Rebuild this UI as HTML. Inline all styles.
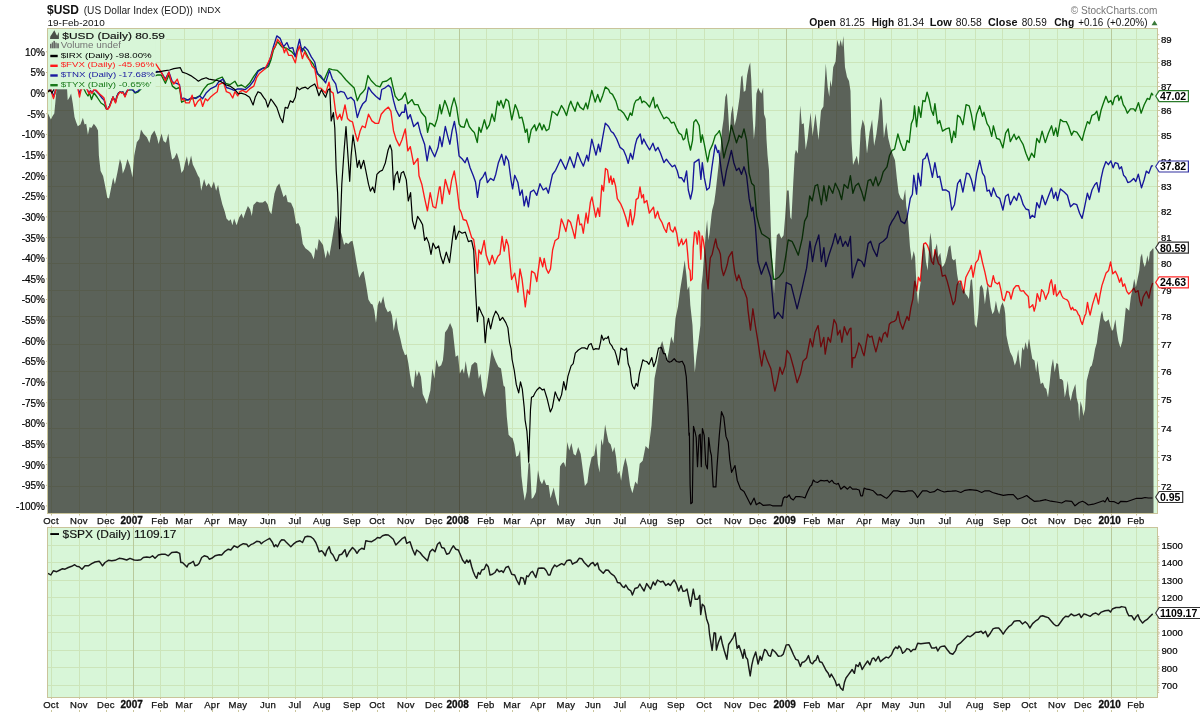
<!DOCTYPE html><html><head><meta charset="utf-8"><title>$USD chart</title><style>html,body{margin:0;padding:0;background:#fff;width:1200px;height:713px;overflow:hidden}svg{display:block;will-change:transform}text{font-family:"Liberation Sans",sans-serif}body{-webkit-font-smoothing:antialiased}</style></head><body>
<svg width="1200" height="713" viewBox="0 0 1200 713">
<rect x="0" y="0" width="1200" height="713" fill="#fff"/>
<rect x="47.5" y="28.5" width="1110.0" height="484.5" fill="#d8f6d8"/>
<clipPath id="cm"><rect x="47.5" y="28.5" width="1110.0" height="484.5"/></clipPath>
<clipPath id="cs"><rect x="47.5" y="527.5" width="1110.0" height="169.5"/></clipPath>
<g shape-rendering="crispEdges">
<line x1="47.5" y1="486.5" x2="1157.5" y2="486.5" stroke="#cce5ba" stroke-width="1"/>
<line x1="47.5" y1="457.5" x2="1157.5" y2="457.5" stroke="#cce5ba" stroke-width="1"/>
<line x1="47.5" y1="428.5" x2="1157.5" y2="428.5" stroke="#cce5ba" stroke-width="1"/>
<line x1="47.5" y1="399.5" x2="1157.5" y2="399.5" stroke="#cce5ba" stroke-width="1"/>
<line x1="47.5" y1="371.5" x2="1157.5" y2="371.5" stroke="#cce5ba" stroke-width="1"/>
<line x1="47.5" y1="344.5" x2="1157.5" y2="344.5" stroke="#cce5ba" stroke-width="1"/>
<line x1="47.5" y1="316.5" x2="1157.5" y2="316.5" stroke="#cce5ba" stroke-width="1"/>
<line x1="47.5" y1="290.5" x2="1157.5" y2="290.5" stroke="#cce5ba" stroke-width="1"/>
<line x1="47.5" y1="263.5" x2="1157.5" y2="263.5" stroke="#cce5ba" stroke-width="1"/>
<line x1="47.5" y1="237.5" x2="1157.5" y2="237.5" stroke="#cce5ba" stroke-width="1"/>
<line x1="47.5" y1="211.5" x2="1157.5" y2="211.5" stroke="#cce5ba" stroke-width="1"/>
<line x1="47.5" y1="186.5" x2="1157.5" y2="186.5" stroke="#cce5ba" stroke-width="1"/>
<line x1="47.5" y1="161.5" x2="1157.5" y2="161.5" stroke="#cce5ba" stroke-width="1"/>
<line x1="47.5" y1="135.5" x2="1157.5" y2="135.5" stroke="#cce5ba" stroke-width="1"/>
<line x1="47.5" y1="110.5" x2="1157.5" y2="110.5" stroke="#cce5ba" stroke-width="1"/>
<line x1="47.5" y1="86.5" x2="1157.5" y2="86.5" stroke="#cce5ba" stroke-width="1"/>
<line x1="47.5" y1="62.5" x2="1157.5" y2="62.5" stroke="#cce5ba" stroke-width="1"/>
<line x1="47.5" y1="39.5" x2="1157.5" y2="39.5" stroke="#cce5ba" stroke-width="1"/>
<line x1="51.5" y1="28.5" x2="51.5" y2="513.0" stroke="#cce5ba" stroke-width="1"/>
<line x1="79.5" y1="28.5" x2="79.5" y2="513.0" stroke="#cce5ba" stroke-width="1"/>
<line x1="106.5" y1="28.5" x2="106.5" y2="513.0" stroke="#cce5ba" stroke-width="1"/>
<line x1="133.5" y1="28.5" x2="133.5" y2="513.0" stroke="#b8c99c" stroke-width="1"/>
<line x1="160.5" y1="28.5" x2="160.5" y2="513.0" stroke="#cce5ba" stroke-width="1"/>
<line x1="184.5" y1="28.5" x2="184.5" y2="513.0" stroke="#cce5ba" stroke-width="1"/>
<line x1="212.5" y1="28.5" x2="212.5" y2="513.0" stroke="#cce5ba" stroke-width="1"/>
<line x1="238.5" y1="28.5" x2="238.5" y2="513.0" stroke="#cce5ba" stroke-width="1"/>
<line x1="268.5" y1="28.5" x2="268.5" y2="513.0" stroke="#cce5ba" stroke-width="1"/>
<line x1="295.5" y1="28.5" x2="295.5" y2="513.0" stroke="#cce5ba" stroke-width="1"/>
<line x1="322.5" y1="28.5" x2="322.5" y2="513.0" stroke="#cce5ba" stroke-width="1"/>
<line x1="352.5" y1="28.5" x2="352.5" y2="513.0" stroke="#cce5ba" stroke-width="1"/>
<line x1="377.5" y1="28.5" x2="377.5" y2="513.0" stroke="#cce5ba" stroke-width="1"/>
<line x1="406.5" y1="28.5" x2="406.5" y2="513.0" stroke="#cce5ba" stroke-width="1"/>
<line x1="434.5" y1="28.5" x2="434.5" y2="513.0" stroke="#cce5ba" stroke-width="1"/>
<line x1="459.5" y1="28.5" x2="459.5" y2="513.0" stroke="#b8c99c" stroke-width="1"/>
<line x1="486.5" y1="28.5" x2="486.5" y2="513.0" stroke="#cce5ba" stroke-width="1"/>
<line x1="512.5" y1="28.5" x2="512.5" y2="513.0" stroke="#cce5ba" stroke-width="1"/>
<line x1="538.5" y1="28.5" x2="538.5" y2="513.0" stroke="#cce5ba" stroke-width="1"/>
<line x1="566.5" y1="28.5" x2="566.5" y2="513.0" stroke="#cce5ba" stroke-width="1"/>
<line x1="593.5" y1="28.5" x2="593.5" y2="513.0" stroke="#cce5ba" stroke-width="1"/>
<line x1="620.5" y1="28.5" x2="620.5" y2="513.0" stroke="#cce5ba" stroke-width="1"/>
<line x1="649.5" y1="28.5" x2="649.5" y2="513.0" stroke="#cce5ba" stroke-width="1"/>
<line x1="676.5" y1="28.5" x2="676.5" y2="513.0" stroke="#cce5ba" stroke-width="1"/>
<line x1="704.5" y1="28.5" x2="704.5" y2="513.0" stroke="#cce5ba" stroke-width="1"/>
<line x1="733.5" y1="28.5" x2="733.5" y2="513.0" stroke="#cce5ba" stroke-width="1"/>
<line x1="758.5" y1="28.5" x2="758.5" y2="513.0" stroke="#cce5ba" stroke-width="1"/>
<line x1="786.5" y1="28.5" x2="786.5" y2="513.0" stroke="#b8c99c" stroke-width="1"/>
<line x1="812.5" y1="28.5" x2="812.5" y2="513.0" stroke="#cce5ba" stroke-width="1"/>
<line x1="836.5" y1="28.5" x2="836.5" y2="513.0" stroke="#cce5ba" stroke-width="1"/>
<line x1="864.5" y1="28.5" x2="864.5" y2="513.0" stroke="#cce5ba" stroke-width="1"/>
<line x1="891.5" y1="28.5" x2="891.5" y2="513.0" stroke="#cce5ba" stroke-width="1"/>
<line x1="917.5" y1="28.5" x2="917.5" y2="513.0" stroke="#cce5ba" stroke-width="1"/>
<line x1="945.5" y1="28.5" x2="945.5" y2="513.0" stroke="#cce5ba" stroke-width="1"/>
<line x1="975.5" y1="28.5" x2="975.5" y2="513.0" stroke="#cce5ba" stroke-width="1"/>
<line x1="1002.5" y1="28.5" x2="1002.5" y2="513.0" stroke="#cce5ba" stroke-width="1"/>
<line x1="1029.5" y1="28.5" x2="1029.5" y2="513.0" stroke="#cce5ba" stroke-width="1"/>
<line x1="1057.5" y1="28.5" x2="1057.5" y2="513.0" stroke="#cce5ba" stroke-width="1"/>
<line x1="1083.5" y1="28.5" x2="1083.5" y2="513.0" stroke="#cce5ba" stroke-width="1"/>
<line x1="1111.5" y1="28.5" x2="1111.5" y2="513.0" stroke="#b8c99c" stroke-width="1"/>
<line x1="1136.5" y1="28.5" x2="1136.5" y2="513.0" stroke="#cce5ba" stroke-width="1"/>
</g>
<g clip-path="url(#cm)" fill="none" stroke-width="1.35" stroke-linejoin="round">
<polyline points="48.5,91.0 51.0,90.0 53.5,97.0 55.0,93.0 56.0,88.0 60.0,85.0 70.0,84.0 80.0,86.0 84.0,89.0 86.0,93.0 88.0,96.0 89.5,93.0 91.5,99.5 94.0,93.0 97.0,97.0 101.0,103.0 104.0,105.0 106.5,109.0 108.0,108.5 109.5,106.0 111.0,102.0 113.0,97.0 114.0,99.0 115.5,102.0 117.0,96.0 118.5,93.0 120.0,92.0 121.5,92.5 123.0,92.0 125.0,96.0 126.5,92.0 128.0,90.0 133.0,89.5 135.0,93.0 138.0,92.0 141.0,89.0 145.0,84.0 150.0,78.0 157.7,74.9 161.2,75.0 165.4,83.3 168.9,74.9 172.4,86.1 176.0,88.9 179.5,87.5 181.6,102.2 185.2,100.4 189.3,99.4 194.9,98.0 199.8,95.9 204.0,88.9 207.5,84.7 213.1,82.6 217.3,79.1 222.2,77.0 225.7,83.3 229.9,84.7 234.9,81.2 237.7,86.1 241.5,85.0 245.4,87.5 249.6,83.3 253.8,76.3 258.0,70.7 263.6,67.9 265.0,68.7 268.5,66.5 270.9,60.0 273.4,50.2 277.6,41.8 281.8,46.8 286.9,48.5 291.9,51.9 295.3,56.0 299.5,46.8 304.6,50.2 308.8,58.6 313.0,63.7 315.5,68.7 318.9,75.5 323.9,80.5 329.0,68.7 332.3,69.6 337.4,70.4 341.6,74.6 345.8,79.7 350.0,83.9 354.2,88.1 357.3,100.7 360.1,94.8 362.6,92.3 365.2,88.9 368.0,75.5 371.1,80.5 376.1,85.6 380.0,86.9 382.5,81.9 386.7,81.0 390.9,77.7 392.6,85.3 395.2,96.2 398.5,100.4 401.9,98.7 405.3,92.8 407.8,103.8 412.0,99.6 414.5,104.6 417.9,104.6 421.2,112.2 425.5,117.2 427.6,132.4 429.7,123.1 432.2,124.0 434.7,126.5 437.2,118.9 439.8,104.6 441.4,113.9 444.8,100.4 447.3,107.1 449.9,116.4 451.5,107.1 454.1,97.9 456.6,107.1 459.1,124.0 460.8,126.5 464.2,127.3 466.7,118.9 469.2,126.5 471.8,129.9 474.3,132.4 477.3,142.5 479.0,127.3 481.0,132.4 484.4,119.8 486.9,129.0 489.4,124.8 492.0,113.9 494.5,121.4 497.5,101.2 499.2,105.5 500.9,100.4 503.4,108.0 505.9,99.1 508.5,101.2 511.8,119.8 515.2,104.6 517.7,110.5 519.4,118.1 521.9,117.2 523.6,124.0 525.3,132.4 527.0,129.0 528.7,142.5 531.2,129.9 534.6,124.8 536.2,130.7 539.6,123.1 542.1,129.9 543.8,124.8 546.3,130.7 548.9,129.0 552.2,111.3 554.8,113.0 557.3,115.6 561.5,105.5 564.0,109.7 566.5,115.6 569.1,105.5 570.8,101.2 572.4,105.5 575.0,111.3 577.5,102.1 580.0,107.1 583.4,109.7 585.9,102.9 587.6,108.8 591.8,90.3 595.2,102.1 597.7,94.5 600.2,102.1 602.7,95.4 605.3,86.9 608.6,89.5 610.0,92.7 612.5,94.4 615.9,101.1 618.4,109.6 620.9,110.4 623.5,112.9 626.0,117.1 627.7,120.2 630.2,112.9 631.9,115.5 634.4,103.7 636.1,100.3 638.6,99.5 640.3,96.6 642.0,102.8 643.7,101.1 646.2,102.8 649.6,107.0 651.2,102.8 653.4,97.3 655.1,107.9 657.1,104.5 658.8,108.7 661.3,113.8 663.9,118.8 666.4,117.1 668.9,118.8 671.4,123.0 674.0,122.2 676.5,128.1 679.0,133.1 681.5,134.8 683.2,139.9 684.9,138.2 686.6,128.9 688.3,140.7 690.5,150.0 692.5,140.7 693.8,122.2 695.9,119.7 697.5,122.2 699.2,125.6 700.9,142.4 702.3,134.8 704.3,144.1 706.0,153.3 707.6,161.8 709.7,150.8 712.7,144.1 715.2,135.7 717.7,133.1 719.4,130.6 721.3,137.8 723.8,158.0 726.4,147.9 728.9,140.3 731.4,125.2 733.9,134.0 736.5,142.8 739.0,135.3 741.5,137.8 744.0,128.9 746.6,140.3 749.1,173.1 751.6,183.2 754.1,185.8 756.7,216.1 759.2,226.2 761.7,233.7 765.5,236.3 769.3,238.8 771.8,261.5 773.6,279.2 775.6,279.2 779.4,276.7 783.2,271.6 785.7,256.5 788.2,240.0 792.0,241.3 794.5,246.4 798.3,255.2 802.1,238.8 804.6,221.1 807.2,216.1 809.7,195.9 812.2,200.9 815.1,185.8 817.6,184.5 821.4,204.7 823.9,185.8 826.4,200.9 828.9,185.8 832.7,193.3 835.3,183.2 839.0,190.8 841.6,199.6 844.1,184.5 847.9,188.3 850.4,175.7 852.9,193.3 855.5,185.8 858.5,183.2 861.8,192.1 864.3,200.9 868.1,180.7 870.6,179.4 873.1,185.8 875.7,176.9 878.2,185.8 880.7,180.7 883.2,171.9 887.0,166.8 889.5,155.5 892.1,150.4 894.6,149.1 897.9,134.0 900.4,142.8 903.4,150.4 905.0,150.0 907.1,140.5 909.2,142.6 911.3,123.7 913.4,118.4 914.5,105.8 916.6,126.8 918.7,106.8 920.8,117.4 922.9,100.5 925.0,101.6 927.1,92.1 929.2,99.5 931.3,110.0 933.4,115.3 934.9,103.7 937.6,123.7 939.7,120.5 942.5,131.1 946.1,128.9 949.2,127.9 951.7,142.6 953.8,131.1 955.5,137.4 957.6,115.3 960.2,117.4 962.9,124.7 966.1,104.7 969.2,105.8 971.3,114.2 974.1,130.0 976.6,114.2 979.7,105.8 982.5,116.3 983.9,112.1 987.1,123.7 989.2,126.8 991.7,136.3 993.4,125.8 996.6,138.4 999.7,139.5 1002.9,147.9 1005.6,133.2 1008.2,128.9 1010.3,141.6 1014.1,134.2 1016.2,139.5 1018.7,136.3 1020.5,140.0 1023.2,144.7 1025.9,153.2 1028.8,160.5 1031.6,153.2 1034.3,157.4 1036.8,138.4 1039.4,142.6 1042.1,131.1 1045.3,142.6 1048.4,133.2 1051.6,125.8 1053.7,135.3 1055.8,127.9 1057.5,136.3 1060.4,119.5 1063.2,121.6 1066.3,121.6 1068.4,125.8 1071.6,135.3 1073.7,131.1 1076.8,132.1 1079.6,136.3 1082.1,140.5 1084.2,132.1 1087.4,121.6 1089.5,123.7 1092.0,115.3 1094.7,114.2 1096.8,111.1 1098.9,120.5 1101.1,110.0 1103.2,103.7 1105.9,96.3 1108.4,102.6 1110.9,100.5 1112.6,104.7 1114.7,97.4 1117.9,95.3 1118.9,100.5 1121.1,96.3 1123.2,104.7 1125.3,107.9 1127.4,113.2 1130.5,108.9 1133.7,108.9 1135.4,111.1 1138.5,102.6 1141.1,113.2 1144.2,104.7 1147.4,98.4 1149.5,99.5 1151.6,93.2 1153.1,95.3" stroke="#0a6e0a"/>
<polyline points="48.5,90.0 51.0,90.0 53.5,96.0 55.0,92.0 56.0,88.0 60.0,85.0 70.0,84.0 78.0,88.0 79.5,94.0 81.0,89.0 84.0,86.0 87.0,89.0 89.0,93.0 90.5,90.5 92.0,93.0 94.0,89.5 96.0,91.0 99.0,94.0 102.0,98.0 104.0,100.0 105.0,103.0 106.5,109.0 108.0,108.5 109.5,106.0 111.0,102.0 113.0,97.0 114.0,99.0 115.5,102.0 117.0,96.0 118.5,93.0 120.0,92.0 121.5,92.5 123.0,92.0 125.0,96.0 126.5,92.0 128.0,89.5 132.0,89.5 135.0,92.5 138.0,91.0 141.0,88.0 145.0,82.0 150.0,75.0 157.0,71.4 161.2,72.1 165.4,79.1 168.9,72.1 172.4,81.9 176.6,83.3 179.5,84.7 181.6,98.7 183.7,98.2 187.9,100.1 192.1,97.3 196.0,98.5 199.8,95.9 202.6,98.7 206.1,93.1 210.3,88.9 215.9,86.1 218.7,81.9 222.9,79.1 226.4,87.5 230.6,88.9 234.2,90.3 237.7,88.9 241.5,89.0 245.4,89.6 249.6,86.1 253.8,80.5 258.0,71.4 262.2,68.6 266.4,67.2 268.5,63.7 270.9,56.0 273.4,46.8 276.8,35.9 280.2,38.4 283.5,46.8 286.9,42.6 289.4,48.5 292.8,47.7 295.3,56.9 299.5,39.3 302.0,51.9 304.6,46.8 307.9,50.2 311.3,56.9 314.7,62.0 317.2,73.8 320.6,75.5 325.6,83.0 329.5,70.4 332.3,78.8 335.7,83.9 337.7,93.1 340.8,91.4 344.1,92.3 347.5,99.0 350.9,97.3 354.2,100.7 357.3,117.5 360.1,109.1 362.6,104.1 366.0,100.7 368.5,87.2 371.9,92.3 376.1,96.5 380.0,99.6 381.7,89.5 385.1,87.8 388.4,85.3 390.9,87.8 393.5,100.4 396.0,109.7 399.4,116.4 401.9,112.2 404.4,112.2 405.3,104.6 407.8,118.9 410.3,114.7 413.7,126.5 417.9,122.3 420.4,132.4 424.6,144.2 427.1,161.0 429.7,145.9 432.2,151.8 434.7,156.8 438.1,147.5 439.8,136.6 442.0,146.7 445.3,126.5 447.8,136.6 449.9,144.2 452.1,130.7 454.4,121.4 456.6,134.1 459.1,156.0 462.5,159.3 465.0,162.7 467.2,157.6 470.1,167.7 473.4,176.0 475.5,182.0 477.5,197.4 480.0,180.5 483.2,176.3 485.3,172.1 487.4,182.6 490.5,178.4 493.7,180.5 495.8,174.2 498.4,162.7 501.7,154.3 504.3,165.2 505.9,156.0 508.5,161.0 511.0,180.0 512.6,188.9 514.7,175.3 517.9,182.6 520.0,195.3 522.1,190.0 524.2,205.8 526.3,196.3 528.4,206.8 530.5,192.1 533.7,190.0 536.8,195.3 540.0,183.7 543.2,190.0 546.3,187.9 548.4,193.2 551.6,178.4 552.5,174.5 555.6,170.3 560.7,159.3 565.7,169.4 569.9,156.8 574.1,167.7 577.5,152.6 580.9,161.0 583.4,166.1 586.8,155.1 588.4,161.0 591.8,139.1 596.0,155.1 598.5,144.2 600.2,151.8 602.7,137.4 605.3,123.1 608.6,126.5 611.2,131.5 613.4,133.1 616.7,139.0 620.1,147.4 623.5,150.0 626.0,155.9 628.2,163.4 630.5,153.3 632.7,159.2 635.3,144.9 636.9,139.0 640.3,134.0 642.0,144.1 643.7,139.0 646.2,144.1 649.6,150.0 652.9,143.2 655.5,150.8 658.0,147.4 660.5,153.3 663.9,162.6 666.4,159.2 668.9,162.6 672.3,166.8 674.8,165.1 677.3,171.0 679.0,177.7 681.5,177.7 684.1,182.0 686.6,171.0 688.3,190.0 690.5,199.0 692.5,190.0 694.2,162.6 696.7,160.9 698.9,159.2 700.9,179.4 702.3,162.6 704.3,177.7 706.8,190.0 709.3,187.8 711.9,167.6 715.2,144.9 717.7,152.5 718.8,150.4 721.3,170.6 723.8,185.8 726.4,170.6 728.9,160.5 731.4,150.4 733.9,163.0 736.5,170.6 739.0,168.1 741.5,174.4 744.0,166.8 746.6,175.7 749.1,198.4 751.6,211.0 752.9,207.2 755.4,226.2 757.9,261.5 761.3,274.2 766.0,262.2 770.8,277.7 774.4,318.3 778.0,312.3 782.7,318.3 786.3,282.5 791.1,284.9 797.1,308.8 801.8,289.7 806.6,268.2 810.0,241.3 812.5,261.5 815.1,246.4 818.8,235.0 821.4,261.5 823.9,247.6 825.7,266.6 828.9,255.2 832.7,243.8 835.3,233.7 837.8,243.8 840.3,236.3 842.8,246.4 845.4,241.3 847.9,246.4 850.4,236.3 852.4,277.9 855.5,266.6 858.0,259.0 861.8,261.5 864.3,266.6 868.1,243.8 870.6,241.3 873.1,248.9 876.9,256.5 879.4,243.8 883.2,241.3 887.0,237.5 889.5,226.2 892.1,221.1 894.6,217.3 897.9,211.0 900.9,221.1 904.7,223.6 907.1,217.4 910.3,198.4 912.4,194.2 913.8,175.3 916.6,194.2 918.1,173.2 920.8,185.8 922.9,159.5 925.0,158.4 927.1,153.2 929.8,164.7 932.4,177.4 934.9,162.6 937.6,177.4 939.7,176.3 942.5,190.0 946.1,190.0 949.2,192.1 951.7,210.0 954.5,204.7 957.6,183.7 960.2,179.5 962.9,192.1 966.5,173.2 969.2,174.2 971.3,179.5 974.1,191.1 976.6,173.2 979.7,160.5 982.5,173.2 984.6,176.3 987.1,191.1 989.2,190.0 991.3,196.3 993.4,187.9 996.6,196.3 999.7,198.4 1002.9,210.0 1005.6,196.3 1008.2,194.2 1010.3,204.7 1014.1,196.3 1016.6,200.5 1018.7,193.2 1020.5,196.0 1023.2,204.7 1025.9,209.0 1028.8,210.0 1030.1,218.4 1032.2,215.3 1034.7,217.4 1036.8,202.6 1039.4,207.9 1042.1,195.3 1045.3,204.7 1048.4,196.3 1051.6,187.9 1053.7,198.4 1055.8,192.1 1057.5,200.5 1060.4,188.9 1064.2,192.1 1067.4,195.3 1070.5,206.8 1073.7,203.7 1076.8,204.7 1079.6,213.2 1082.1,218.4 1084.2,208.9 1087.4,193.2 1089.5,199.5 1092.0,190.0 1094.7,184.7 1096.8,182.6 1098.9,192.1 1101.1,178.4 1103.2,168.9 1105.9,161.6 1108.4,164.7 1110.9,160.9 1113.1,167.9 1115.2,162.6 1117.9,163.7 1119.4,168.9 1121.5,166.8 1123.6,175.3 1125.7,177.4 1127.8,182.6 1130.5,181.6 1133.7,178.4 1135.8,181.6 1138.3,174.2 1141.5,187.9 1144.2,179.5 1146.3,171.1 1148.8,173.2 1151.6,165.8 1153.1,165.8" stroke="#16169a"/>
<polyline points="48.5,91.0 51.0,90.0 53.5,98.5 55.0,93.0 56.0,89.0 60.0,85.0 70.0,84.0 78.0,89.0 79.5,97.0 81.0,90.0 84.0,86.0 87.0,89.0 89.0,94.0 90.5,91.0 92.0,93.5 94.0,89.5 96.0,90.0 99.0,93.5 102.0,96.0 104.0,98.0 105.0,102.0 106.5,109.0 108.0,109.0 109.5,107.0 111.0,103.0 113.0,97.0 114.0,99.5 115.5,103.0 117.0,97.0 118.5,94.0 120.0,92.0 121.5,93.0 123.0,92.5 125.0,97.0 126.5,93.0 128.0,90.0 130.0,86.0 140.0,80.0 150.0,70.0 155.6,63.7 158.4,67.9 161.2,72.1 165.4,80.5 168.9,72.1 171.0,80.5 173.8,84.0 177.3,79.1 179.5,86.1 181.6,100.1 183.7,98.7 185.8,102.9 189.3,102.9 192.1,95.2 194.9,106.4 197.7,101.5 200.5,98.7 202.6,106.4 205.4,98.7 207.5,100.8 210.3,97.3 214.5,93.8 217.3,91.7 218.7,84.7 221.5,83.3 223.6,82.6 226.4,91.7 229.9,93.1 232.7,98.0 234.9,91.7 237.7,95.9 239.8,91.7 242.6,90.3 246.1,92.4 249.6,88.9 253.8,86.1 256.6,77.7 259.4,73.5 263.6,70.0 265.0,68.7 268.4,62.0 270.9,56.9 273.4,48.5 275.1,46.8 277.6,39.3 280.2,42.6 282.7,46.8 284.4,52.7 286.0,48.5 288.6,55.3 291.9,55.3 295.3,62.8 297.8,50.2 299.5,46.0 302.4,58.6 304.6,51.9 307.1,56.9 309.6,60.3 312.1,66.2 314.7,68.7 316.3,77.1 318.0,88.1 320.6,88.1 323.1,90.6 325.6,93.1 329.0,82.2 330.7,91.4 333.2,93.1 335.7,112.5 337.4,119.2 339.9,114.2 341.6,120.1 345.0,104.9 347.5,118.4 350.0,120.9 352.5,121.8 355.1,132.7 357.6,141.1 360.1,131.0 362.3,126.0 365.2,127.6 368.5,114.2 371.9,120.9 375.3,123.4 378.6,123.4 381.2,114.2 385.1,109.7 388.4,107.1 390.9,111.3 393.5,130.7 396.0,139.1 399.4,145.9 401.9,140.0 405.3,129.0 407.8,150.9 410.3,146.7 413.7,164.4 417.9,158.5 419.0,175.7 421.8,184.2 424.6,198.2 427.4,210.8 430.2,192.6 433.0,206.6 435.8,208.0 439.4,187.0 440.2,186.8 442.1,203.7 445.3,179.5 449.5,194.2 451.6,180.5 454.3,171.0 456.8,186.8 459.4,208.9 461.1,212.1 463.2,219.5 466.3,220.5 468.4,226.8 471.6,237.4 473.7,239.5 475.8,254.2 477.5,273.2 478.9,250.0 481.1,254.2 484.2,240.5 486.3,255.3 489.5,264.7 492.2,255.3 494.7,263.7 497.9,256.3 500.0,254.2 502.1,236.3 504.2,251.1 506.3,239.5 508.4,245.8 511.6,279.5 514.7,273.2 517.9,292.1 520.0,268.9 522.1,279.5 525.3,306.8 527.4,290.0 529.5,294.2 531.6,271.1 534.7,273.2 536.8,281.6 540.0,257.4 542.7,266.8 544.2,258.4 546.3,268.9 548.4,273.2 550.5,268.9 552.6,250.0 555.0,240.8 558.4,238.3 561.4,218.9 563.4,224.0 565.9,231.5 568.1,219.8 570.5,222.3 572.7,229.9 574.9,238.3 576.9,222.3 578.2,214.7 579.9,224.8 581.6,224.0 583.3,233.2 586.1,213.0 587.8,223.1 590.4,202.1 592.0,197.0 593.7,206.3 595.7,217.2 597.9,208.0 599.6,216.4 601.8,185.3 603.5,191.1 605.5,168.4 607.5,170.1 609.2,182.7 610.9,176.0 612.2,184.4 613.6,178.5 615.6,186.1 617.3,198.7 620.7,203.8 623.2,209.7 625.7,217.2 628.2,226.5 630.4,209.7 632.4,224.8 634.5,215.6 636.1,199.6 638.3,197.9 640.0,186.9 641.7,197.9 643.4,194.5 644.2,202.9 646.8,200.4 649.3,213.0 653.5,207.1 655.2,218.1 657.7,211.3 659.4,218.1 661.9,222.3 664.1,228.2 666.4,232.4 668.0,223.9 669.3,222.6 670.5,229.6 673.0,232.1 674.9,227.0 676.6,232.7 678.7,246.0 680.6,242.2 681.6,239.0 682.9,244.7 684.4,242.8 686.3,239.0 687.6,252.9 688.8,268.0 690.1,270.6 690.7,280.7 692.2,278.8 693.2,247.9 694.5,232.1 696.0,233.3 697.3,244.1 698.5,230.8 699.5,232.7 700.8,259.2 702.1,235.9 703.3,240.3 704.6,249.1 705.9,263.0 707.1,280.7 708.1,288.9 709.0,273.1 710.3,258.0 712.2,254.2 714.1,245.3 715.7,239.0 717.2,247.2 719.1,250.4 720.4,254.2 721.6,268.0 723.5,275.6 725.4,270.6 727.3,264.3 728.6,257.3 730.5,254.2 732.1,251.6 733.6,264.3 734.9,273.1 736.8,280.7 738.7,275.0 740.6,280.0 742.4,288.2 744.3,290.8 746.9,298.3 748.1,311.1 750.5,330.2 752.9,308.8 755.3,325.5 757.7,339.8 760.1,356.5 761.7,366.0 764.1,350.5 767.2,360.1 770.8,368.4 773.2,382.7 774.9,391.1 777.5,380.4 779.9,367.2 782.3,374.4 785.1,366.0 787.0,350.5 789.9,354.1 793.5,367.2 797.1,382.7 800.6,373.2 803.0,361.3 806.6,357.7 810.2,338.6 812.6,346.9 815.0,332.6 818.1,325.5 820.9,346.9 823.8,337.4 825.2,354.1 828.1,337.4 830.5,342.2 834.0,319.5 836.4,324.3 837.6,335.0 840.0,330.2 841.9,342.2 844.3,326.7 847.2,335.0 849.6,329.0 851.0,328.2 852.0,367.5 852.9,357.7 854.9,357.7 856.9,351.8 858.8,343.0 860.8,345.9 862.8,352.8 864.1,355.7 865.7,345.9 867.7,334.1 869.6,337.1 872.0,336.1 874.0,344.9 875.9,351.8 877.5,345.9 879.5,337.1 881.4,342.0 883.4,334.1 885.4,332.2 887.3,337.1 889.3,324.3 891.3,322.3 894.2,321.4 896.2,319.4 898.1,311.5 900.1,322.3 902.7,329.2 905.0,322.3 907.0,316.4 908.9,320.4 910.9,307.6 912.9,298.8 914.8,281.1 916.8,290.9 918.4,277.2 920.3,281.1 922.3,259.5 923.7,243.8 925.6,242.8 927.6,245.7 929.6,251.6 931.5,261.4 933.5,264.4 934.9,249.6 936.4,255.5 938.4,263.4 940.4,265.4 942.3,276.2 945.3,275.2 947.2,281.1 949.2,288.9 951.2,296.8 953.1,304.7 955.1,300.7 957.1,285.0 959.0,281.1 961.0,281.1 963.6,292.9 965.9,277.2 967.9,273.2 970.0,269.3 971.4,265.5 973.1,277.2 975.7,262.9 978.2,259.6 979.9,250.3 982.4,262.1 984.9,272.2 987.4,284.0 989.5,286.5 991.1,286.5 993.3,275.6 995.0,282.3 997.5,284.0 999.2,282.3 1000.9,289.9 1002.6,299.1 1004.3,300.8 1006.8,291.5 1009.3,292.4 1011.0,299.1 1013.5,289.0 1016.1,285.7 1018.6,285.7 1020.3,290.7 1021.5,291.1 1023.4,290.6 1025.4,293.6 1028.3,296.5 1029.3,307.8 1031.3,306.3 1032.8,304.8 1034.2,311.2 1035.7,305.3 1037.2,293.6 1038.6,297.5 1039.9,301.4 1041.6,289.6 1043.6,292.1 1045.7,299.4 1047.0,295.5 1048.5,292.6 1049.9,283.7 1051.4,279.8 1052.4,285.7 1053.6,294.5 1055.1,284.7 1056.5,296.0 1058.3,293.6 1060.0,290.6 1061.7,295.5 1063.2,298.0 1065.1,299.0 1067.1,299.9 1068.6,301.9 1070.0,306.8 1071.2,309.7 1072.5,307.3 1074.0,310.2 1075.4,309.7 1076.9,311.2 1078.4,314.7 1079.4,315.6 1080.8,321.0 1082.3,324.5 1083.3,321.0 1084.6,316.1 1085.9,313.7 1087.5,302.4 1088.7,309.3 1090.1,315.0 1092.6,304.1 1096.0,293.1 1098.5,304.1 1100.2,294.0 1101.9,285.6 1103.6,280.5 1106.1,272.9 1108.6,270.4 1110.6,262.0 1112.8,273.8 1115.4,271.2 1117.4,275.5 1119.6,282.2 1121.2,278.0 1122.9,286.4 1124.6,283.9 1126.8,291.4 1128.8,294.0 1131.3,291.4 1133.9,288.1 1135.6,292.3 1138.1,290.6 1139.8,300.7 1141.4,305.8 1143.1,297.3 1144.8,294.0 1146.5,291.4 1149.0,298.2 1150.7,288.9 1152.7,283.0" stroke="#ff1a1a"/>
<polyline points="48.0,92.0 50.0,90.0 52.0,93.0 54.0,89.0 56.0,86.0 100.0,80.0 150.0,73.0 157.0,72.1 161.2,71.4 165.4,70.7 169.6,70.0 173.8,68.6 180.2,67.6 182.3,72.1 186.5,73.5 190.7,75.6 194.9,78.4 198.4,81.2 201.9,79.1 206.1,77.7 208.9,79.1 213.1,79.8 217.3,80.5 221.5,81.9 225.7,84.7 229.9,86.1 234.2,88.9 238.4,93.8 241.2,93.1 245.4,94.5 249.6,97.3 253.1,105.0 255.2,97.3 258.0,91.7 260.8,93.1 263.6,97.3 265.7,100.1 267.8,107.1 270.9,99.0 273.4,102.4 276.8,107.4 280.2,117.5 282.7,122.6 285.2,107.4 287.7,108.3 290.3,100.7 292.8,102.4 295.3,97.3 297.0,87.2 299.5,89.8 302.0,88.1 305.4,87.2 307.9,88.9 310.5,86.4 314.7,83.9 316.3,87.2 318.9,95.7 321.4,89.8 323.1,93.1 325.6,97.3 328.1,89.8 329.8,88.9 331.2,121.0 333.4,112.6 334.8,128.0 336.2,170.1 337.6,192.6 339.0,234.6 339.6,248.7 340.4,223.4 341.8,184.2 344.1,150.5 346.0,126.6 347.4,147.7 349.7,181.3 351.1,156.1 353.0,135.1 355.3,150.5 357.3,167.3 359.2,160.3 360.9,168.7 363.7,160.3 365.7,170.1 368.5,184.2 370.4,191.2 372.7,187.0 374.6,192.6 376.9,174.3 379.7,171.5 382.5,170.1 385.3,163.0 388.1,150.0 390.1,144.9 391.8,150.5 393.7,189.8 395.1,175.7 397.4,171.5 399.3,182.7 401.3,172.9 403.5,171.5 406.3,179.9 408.3,201.0 410.6,192.6 412.5,220.6 414.8,229.0 417.6,216.4 420.4,220.6 422.6,224.8 424.6,240.3 426.5,237.4 428.8,243.1 431.0,254.3 433.0,243.1 435.8,248.7 438.6,245.9 440.6,255.7 443.2,263.7 446.3,252.1 449.5,262.6 452.6,237.4 454.3,225.8 455.8,239.5 458.9,231.1 462.1,233.2 465.3,232.1 468.4,241.6 471.6,240.5 473.7,250.0 474.7,271.1 475.8,295.0 477.4,321.6 478.8,306.8 481.6,313.2 483.7,317.4 485.2,342.6 486.8,325.8 488.5,318.4 490.6,328.9 493.2,317.4 495.7,311.1 498.4,315.3 499.9,320.5 502.6,317.4 505.8,322.6 507.9,327.9 509.6,342.6 511.1,348.9 512.1,359.5 514.2,370.0 516.3,384.7 518.7,392.8 520.5,381.8 522.3,389.1 524.2,407.4 525.1,420.1 526.9,431.1 527.8,443.9 528.7,462.1 529.6,434.7 530.5,409.2 531.5,397.3 533.3,396.4 535.1,392.8 536.9,390.0 539.7,387.3 542.4,390.0 544.2,389.1 547.0,398.2 550.3,411.9 552.4,407.4 555.2,391.9 557.0,396.4 559.2,401.0 561.6,394.6 563.7,381.6 565.8,390.0 567.9,376.3 571.1,365.8 573.2,363.7 575.3,353.2 578.4,350.0 581.6,347.9 584.7,347.9 587.2,349.2 588.9,344.7 591.2,343.6 593.4,349.7 595.7,348.6 599.0,349.2 600.7,341.3 601.6,335.2 603.5,340.2 605.2,338.0 606.9,338.5 608.3,336.3 609.7,343.0 611.9,345.8 613.1,348.6 614.7,350.3 616.4,355.9 618.4,364.9 619.8,357.0 620.9,348.1 623.2,349.7 624.8,350.3 626.5,348.1 628.2,363.8 629.9,368.3 631.6,382.9 632.7,386.2 634.4,389.0 636.1,383.4 637.7,386.2 639.4,373.9 641.1,367.1 642.8,359.8 644.5,361.0 646.7,361.5 649.0,364.3 651.8,357.6 653.7,366.6 655.7,361.5 658.5,348.1 661.3,347.5 663.6,353.7 665.2,353.7 666.9,360.4 669.2,362.1 671.4,361.5 674.2,358.7 676.5,361.5 679.3,362.1 682.2,361.2 684.5,365.7 686.3,376.9 687.9,406.1 689.0,435.3 689.4,433.0 690.1,484.7 690.8,503.7 692.3,502.6 693.5,426.3 695.3,433.0 696.2,437.5 697.5,466.7 699.1,435.3 700.2,434.2 701.3,466.7 702.4,428.5 704.2,435.3 705.8,464.5 707.4,468.9 708.7,437.5 710.3,451.0 711.4,455.5 713.2,486.9 715.9,486.9 717.0,466.7 719.3,435.3 721.5,411.7 723.8,417.3 726.0,436.4 728.2,442.0 729.8,460.0 731.6,472.3 735.0,465.6 737.2,480.2 740.6,489.1 744.0,491.4 747.3,498.1 750.7,504.8 754.1,498.1 756.3,504.8 759.7,502.6 763.0,505.3 769.8,504.8 772.5,505.8 781.7,505.8 783.3,498.3 785.0,496.7 786.7,497.5 789.2,495.0 790.8,498.3 793.3,500.0 795.8,496.7 799.2,496.7 802.5,497.0 805.0,498.0 807.5,491.7 810.0,486.7 811.7,485.0 813.3,480.0 815.0,481.7 817.5,482.5 820.8,480.3 824.2,480.8 827.5,480.3 829.2,482.5 832.0,480.3 834.2,483.3 836.7,484.2 838.3,483.3 840.8,489.2 844.2,486.3 847.5,489.2 850.0,486.7 852.5,489.2 856.7,489.2 859.2,490.0 860.8,495.8 862.5,495.8 864.2,488.0 866.7,489.2 870.0,489.7 873.3,490.8 877.5,495.0 880.8,494.7 885.0,497.5 886.7,498.3 889.2,495.8 893.3,490.8 897.5,490.8 900.8,491.7 905.0,491.7 908.3,490.8 912.5,490.8 915.0,493.3 917.5,497.5 920.0,494.2 922.5,490.8 926.7,490.8 930.0,492.5 934.2,491.7 937.5,489.2 940.8,490.8 944.2,492.0 947.5,491.3 951.7,491.2 955.8,490.8 960.8,492.5 965.0,490.3 970.0,489.7 976.7,490.3 981.7,492.5 985.0,490.8 989.2,490.8 992.5,492.5 998.3,494.2 1003.3,495.3 1008.3,494.7 1013.3,494.7 1017.5,499.2 1022.5,497.5 1026.7,495.5 1030.0,498.3 1034.2,501.3 1040.0,500.8 1045.8,499.7 1050.8,501.2 1056.7,502.0 1061.7,503.0 1065.8,500.8 1071.7,501.3 1075.0,505.8 1079.2,502.5 1082.5,501.3 1085.0,502.5 1088.3,505.0 1093.3,504.2 1098.3,502.5 1103.3,500.8 1105.0,502.0 1107.5,497.5 1109.2,501.3 1114.2,501.7 1118.3,503.7 1120.8,501.3 1126.7,501.7 1131.7,500.0 1136.7,498.3 1141.7,498.3 1145.0,497.5 1148.3,498.0 1152.5,498.0" stroke="#000" stroke-width="1.2"/>
</g>
<polygon clip-path="url(#cm)" points="48.0,113.6 50.9,119.5 52.6,116.1 54.3,113.6 55.4,101.8 56.8,86.0 66.9,86.0 67.7,100.2 69.4,97.6 71.1,93.4 72.8,103.5 74.5,117.0 76.1,122.0 77.8,126.2 80.4,124.6 82.9,117.8 84.6,124.6 86.2,123.7 87.9,134.7 89.6,127.1 91.3,127.9 93.8,123.7 96.3,127.1 98.0,130.5 98.9,155.7 100.6,170.9 103.1,175.9 104.8,184.3 107.3,197.8 109.0,198.6 111.5,186.0 113.2,177.6 114.9,184.3 117.4,172.5 119.9,159.1 121.6,164.1 122.8,173.4 125.0,168.3 127.5,159.1 130.0,165.8 132.5,177.6 134.2,155.7 136.8,142.2 139.3,138.9 141.0,129.6 143.5,133.8 146.9,137.2 149.4,143.1 151.1,135.5 154.4,130.5 157.0,137.2 158.6,143.9 161.5,133.6 163.5,141.0 165.9,142.7 168.4,133.5 170.1,148.6 172.1,159.6 174.3,157.9 176.8,152.8 179.4,161.2 181.5,173.0 183.6,169.7 185.3,162.1 186.9,156.2 188.6,166.3 191.1,155.4 192.8,164.6 195.4,169.7 197.9,175.6 199.6,178.1 201.2,190.7 204.1,178.9 206.3,186.5 208.8,183.1 211.3,188.2 213.9,181.4 216.1,190.7 218.1,184.8 219.8,194.1 222.3,204.2 224.8,211.8 226.5,218.5 229.0,221.0 230.7,219.3 232.4,225.2 234.1,218.5 236.6,225.2 239.1,217.6 241.6,213.4 243.3,218.5 245.9,210.9 247.9,205.9 250.1,209.2 251.8,216.0 253.4,205.0 256.8,201.6 259.3,202.5 262.7,202.5 265.2,200.8 267.7,204.2 269.4,210.9 271.4,214.3 273.1,202.5 274.5,193.6 276.7,186.8 279.3,183.5 280.9,188.5 283.5,196.9 286.0,194.4 287.7,202.0 291.0,202.8 293.6,208.7 296.1,223.9 298.3,223.0 300.3,227.2 302.8,244.1 305.4,248.3 308.7,250.8 311.2,253.3 313.8,259.2 315.5,247.4 317.1,250.8 318.8,239.0 321.3,242.4 323.0,244.9 325.6,258.4 327.7,250.0 329.3,255.9 331.4,244.1 333.6,230.6 335.7,215.5 337.3,218.8 339.0,227.2 341.5,234.0 344.1,244.9 345.8,242.4 348.3,244.1 350.5,241.5 352.5,240.7 354.2,249.1 356.7,264.3 359.2,277.7 361.8,272.7 363.6,270.9 365.0,278.5 366.7,288.6 368.4,299.6 370.9,303.8 372.6,304.6 374.3,310.5 376.0,323.1 377.7,305.5 379.4,300.4 381.0,303.8 383.2,296.2 385.3,307.1 387.8,312.2 390.3,310.5 392.0,315.6 393.7,330.7 396.2,317.2 397.9,329.0 400.4,339.1 402.5,348.4 405.0,355.2 406.7,354.3 408.4,363.6 410.1,375.4 411.8,385.5 413.5,388.0 415.5,369.5 416.8,377.0 418.9,371.1 421.0,377.0 422.7,393.9 424.9,398.9 426.9,404.0 429.0,395.6 430.3,390.5 432.3,368.6 434.5,378.7 436.2,359.4 438.7,366.9 441.2,365.3 442.9,360.2 444.1,348.4 445.0,332.4 447.5,329.0 450.1,323.1 452.6,329.0 454.3,344.2 455.6,356.8 458.1,355.2 459.8,373.7 462.3,368.6 464.0,373.7 465.7,361.0 467.3,372.0 469.0,378.7 471.5,365.3 474.9,361.9 477.1,363.6 478.8,378.7 480.5,373.7 482.5,390.5 484.2,397.2 486.7,387.1 489.2,368.6 491.8,348.4 493.4,355.2 496.0,361.9 498.5,366.9 501.0,368.6 503.5,385.5 505.0,387.0 506.8,416.5 508.6,434.7 511.1,437.6 512.5,437.9 514.3,443.9 516.2,456.8 518.4,455.6 520.1,449.7 521.4,476.0 523.1,490.2 524.7,500.6 526.6,491.8 528.6,462.0 530.0,464.0 531.7,498.9 533.5,497.3 536.0,491.9 538.0,470.0 540.0,480.6 542.0,484.2 544.0,479.1 546.2,485.0 548.6,485.0 550.5,498.2 553.7,487.6 555.3,495.5 557.5,504.2 558.8,506.1 560.0,466.5 562.3,463.0 563.9,462.3 565.6,467.3 567.2,442.1 569.3,450.5 571.4,442.9 573.6,453.9 575.7,455.6 578.2,447.1 580.7,453.9 582.7,469.0 584.9,485.9 587.4,482.5 589.1,469.0 591.6,457.2 594.2,455.6 596.2,442.9 597.9,464.0 599.6,472.4 601.2,438.7 602.9,445.5 605.1,424.4 606.8,433.7 608.5,442.1 610.7,444.6 612.7,452.2 614.4,447.1 616.1,457.2 617.7,474.1 619.4,470.7 621.1,480.8 623.1,467.3 625.4,457.5 627.6,467.0 630.1,485.7 632.4,493.2 635.3,481.5 637.4,484.4 639.7,463.8 642.7,460.8 645.6,446.1 648.6,449.1 651.5,425.5 654.5,378.4 657.4,363.6 660.1,347.0 662.2,341.0 664.5,350.0 666.7,362.0 669.0,350.0 671.2,336.5 673.5,343.2 675.5,318.3 678.0,306.4 680.2,289.4 682.4,275.9 684.7,260.2 686.5,275.9 687.5,290.0 689.2,286.0 690.3,305.1 692.5,325.3 693.7,352.2 694.8,372.4 696.4,356.7 698.2,343.2 700.4,325.3 701.5,285.0 702.7,274.4 704.6,247.9 705.9,231.5 707.1,220.1 708.4,240.3 709.6,232.7 711.5,215.0 712.2,210.0 714.1,203.0 715.6,192.2 717.5,175.0 719.2,159.4 720.5,150.0 721.9,130.8 723.6,119.0 725.3,97.1 726.9,92.9 728.3,113.9 729.5,135.8 731.1,113.9 732.8,105.5 734.5,125.7 736.2,119.0 737.9,108.9 739.6,97.1 741.2,76.9 742.4,75.2 743.8,92.0 745.5,90.4 747.1,75.2 748.8,66.8 750.2,62.6 751.3,80.3 752.5,113.9 753.9,139.2 755.2,125.7 756.4,93.7 758.1,87.8 759.8,91.2 761.4,93.7 763.1,87.8 764.0,113.9 765.7,119.0 766.5,139.2 767.5,155.0 769.0,170.2 770.1,206.1 771.2,239.8 772.3,262.2 773.5,284.7 774.1,293.6 775.3,262.2 776.8,235.3 779.1,233.0 781.3,238.6 783.6,235.3 785.1,217.3 786.9,190.4 788.7,190.4 790.3,217.3 791.4,219.6 793.2,183.7 794.8,154.5 795.9,149.8 797.9,153.7 800.2,105.6 801.8,124.3 803.8,123.3 805.7,149.8 807.7,138.0 810.6,112.5 812.6,136.1 815.5,113.5 818.5,140.0 821.0,110.5 823.4,106.6 825.8,63.4 827.7,86.9 829.3,96.8 830.3,80.1 831.7,86.9 833.2,67.3 835.6,61.4 837.2,39.8 839.1,46.7 840.7,39.8 842.1,46.7 843.4,35.9 845.0,67.3 847.0,77.1 849.0,81.0 850.5,90.9 851.5,140.0 853.0,165.0 855.0,160.0 856.8,155.7 858.8,165.5 860.7,130.2 862.7,119.4 864.7,126.2 867.0,153.7 869.6,132.1 872.1,119.4 874.1,145.9 876.4,134.1 878.4,118.4 880.4,96.8 881.9,100.7 883.9,138.0 886.3,122.3 888.2,138.0 890.5,147.6 893.0,155.2 895.0,160.2 896.8,177.9 898.6,193.0 900.6,198.1 903.1,200.6 905.2,189.2 906.2,205.7 907.7,215.8 909.4,238.5 910.0,246.9 911.7,260.4 913.7,251.1 915.1,257.0 916.7,290.7 918.1,304.2 919.3,290.7 920.9,280.6 922.1,257.0 923.5,243.6 924.8,248.6 926.0,262.1 927.7,270.5 928.9,250.3 930.2,232.6 931.5,240.2 932.7,258.7 934.4,253.7 935.6,247.8 936.9,243.6 938.3,257.0 940.3,252.8 942.0,267.1 943.7,265.5 945.4,262.1 947.0,255.4 948.7,246.9 950.4,245.3 952.1,258.7 953.8,260.4 955.5,258.7 957.1,273.9 958.8,284.0 960.5,280.6 962.2,290.7 963.9,289.0 965.6,294.1 967.2,295.8 968.9,299.1 970.6,280.6 972.0,278.9 973.1,294.1 974.8,324.4 976.5,327.7 978.2,314.3 979.9,287.3 981.5,284.8 983.2,289.0 984.9,304.2 986.6,290.7 987.8,284.0 989.1,294.1 990.8,307.5 992.5,314.3 994.2,310.9 995.9,300.8 997.5,309.2 999.2,314.3 1000.9,305.9 1002.6,302.5 1004.3,307.5 1005.2,313.4 1006.4,335.3 1008.1,343.7 1010.1,352.1 1012.6,357.1 1014.8,365.6 1016.5,360.5 1018.2,349.6 1019.4,360.5 1020.5,368.9 1022.2,347.0 1023.9,350.4 1025.6,342.0 1027.3,349.6 1029.0,338.6 1030.6,348.7 1032.3,358.8 1034.5,360.5 1036.2,372.3 1037.4,360.5 1039.1,374.0 1040.7,384.1 1042.9,382.4 1044.6,387.4 1046.3,389.1 1048.0,397.5 1049.7,382.4 1051.3,367.2 1053.0,358.8 1054.7,372.3 1056.4,363.0 1058.1,363.9 1059.8,379.0 1061.4,379.0 1063.1,380.7 1064.8,397.5 1066.5,389.1 1067.8,380.7 1069.0,394.2 1070.7,400.9 1072.4,392.5 1074.1,387.4 1075.4,384.1 1076.6,397.5 1078.3,404.3 1079.1,421.1 1080.5,400.9 1082.2,407.6 1083.3,416.1 1085.0,409.3 1086.7,380.7 1088.4,374.0 1090.1,367.2 1091.8,365.6 1093.4,358.8 1095.1,348.7 1096.8,343.0 1097.9,334.0 1099.4,324.3 1101.0,314.2 1102.2,310.8 1103.6,319.2 1105.3,321.8 1106.9,320.9 1108.6,319.2 1110.3,326.0 1112.0,331.0 1113.3,329.3 1115.4,319.2 1116.7,331.0 1118.4,341.1 1120.4,347.8 1122.4,341.1 1124.1,324.3 1125.8,307.4 1127.5,309.1 1129.2,310.8 1130.8,297.3 1132.5,288.9 1134.2,278.8 1135.9,287.2 1137.6,278.8 1139.3,270.4 1140.6,256.9 1142.0,253.6 1143.1,262.0 1144.8,267.0 1146.2,262.0 1147.3,255.3 1148.7,262.0 1149.9,251.9 1151.5,250.2 1152.7,248.5 1153.5,248.5 1153.5,513.0 48.0,513.0" fill="#080005" fill-opacity="0.60"/>
<rect x="48" y="29" width="107.7" height="60.3" fill="#d8f6d8"/>
<rect x="48" y="29" width="118" height="11" fill="#d8f6d8"/>
<path d="M50,38.9 L50.4,36.2 L51.8,34.2 L53.2,32 L54.4,30.2 L55.3,32.2 L56.3,34.4 L57.2,35.8 L58,33.8 L58.9,31.9 L58.9,38.9 Z" fill="#4b5049"/>
<rect x="50.0" y="43.8" width="1.5" height="4.5" fill="#656865"/>
<rect x="51.8" y="42.4" width="1.4" height="5.9" fill="#656865"/>
<rect x="53.4" y="40.9" width="1.6" height="7.4" fill="#656865"/>
<rect x="55.3" y="42.6" width="1.4" height="5.7" fill="#656865"/>
<rect x="57.2" y="43.3" width="1.7" height="5.0" fill="#656865"/>
<rect x="50.3" y="54.8" width="7.4" height="2.4" fill="#000"/>
<rect x="50.3" y="64.6" width="7.4" height="2.4" fill="#ff1a1a"/>
<rect x="50.3" y="74.3" width="7.4" height="2.4" fill="#1a1aa0"/>
<rect x="50.3" y="84.0" width="7.4" height="2.4" fill="#1a7a1a"/>
<text x="62.3" y="38.7" font-size="8.8" fill="#111" font-weight="normal" text-anchor="start" textLength="102.7" lengthAdjust="spacingAndGlyphs" stroke="#111" stroke-width="0.15">$USD (Daily) 80.59</text>
<text x="60.7" y="48.0" font-size="8.4" fill="#747474" font-weight="normal" text-anchor="start" textLength="60.3" lengthAdjust="spacingAndGlyphs">Volume undef</text>
<text x="60.7" y="57.6" font-size="7.9" fill="#000" font-weight="normal" text-anchor="start" textLength="91.0" lengthAdjust="spacingAndGlyphs">$IRX (Daily) -98.00%</text>
<text x="60.7" y="67.3" font-size="7.9" fill="#ff1a1a" font-weight="normal" text-anchor="start" textLength="93.6" lengthAdjust="spacingAndGlyphs">$FVX (Daily) -45.96%</text>
<text x="60.7" y="77.0" font-size="7.9" fill="#1a1aa0" font-weight="normal" text-anchor="start" textLength="94.3" lengthAdjust="spacingAndGlyphs">$TNX (Daily) -17.68%</text>
<text x="60.7" y="86.7" font-size="7.9" fill="#1a7a1a" font-weight="normal" text-anchor="start" textLength="91.0" lengthAdjust="spacingAndGlyphs">$TYX (Daily) -0.65%'</text>
<rect x="47.5" y="28.5" width="1110.0" height="484.5" fill="none" stroke="#c9c49a" stroke-width="1" shape-rendering="crispEdges"/>
<rect x="47.5" y="527.5" width="1110.0" height="169.5" fill="#d8f6d8"/>
<g shape-rendering="crispEdges">
<line x1="47.5" y1="685.5" x2="1157.5" y2="685.5" stroke="#cce5ba" stroke-width="1"/>
<line x1="47.5" y1="667.5" x2="1157.5" y2="667.5" stroke="#cce5ba" stroke-width="1"/>
<line x1="47.5" y1="650.5" x2="1157.5" y2="650.5" stroke="#cce5ba" stroke-width="1"/>
<line x1="47.5" y1="632.5" x2="1157.5" y2="632.5" stroke="#cce5ba" stroke-width="1"/>
<line x1="47.5" y1="615.5" x2="1157.5" y2="615.5" stroke="#cce5ba" stroke-width="1"/>
<line x1="47.5" y1="597.5" x2="1157.5" y2="597.5" stroke="#cce5ba" stroke-width="1"/>
<line x1="47.5" y1="580.5" x2="1157.5" y2="580.5" stroke="#cce5ba" stroke-width="1"/>
<line x1="47.5" y1="562.5" x2="1157.5" y2="562.5" stroke="#cce5ba" stroke-width="1"/>
<line x1="47.5" y1="545.5" x2="1157.5" y2="545.5" stroke="#cce5ba" stroke-width="1"/>
<line x1="51.5" y1="527.5" x2="51.5" y2="697.0" stroke="#cce5ba" stroke-width="1"/>
<line x1="79.5" y1="527.5" x2="79.5" y2="697.0" stroke="#cce5ba" stroke-width="1"/>
<line x1="106.5" y1="527.5" x2="106.5" y2="697.0" stroke="#cce5ba" stroke-width="1"/>
<line x1="133.5" y1="527.5" x2="133.5" y2="697.0" stroke="#b8c99c" stroke-width="1"/>
<line x1="160.5" y1="527.5" x2="160.5" y2="697.0" stroke="#cce5ba" stroke-width="1"/>
<line x1="184.5" y1="527.5" x2="184.5" y2="697.0" stroke="#cce5ba" stroke-width="1"/>
<line x1="212.5" y1="527.5" x2="212.5" y2="697.0" stroke="#cce5ba" stroke-width="1"/>
<line x1="238.5" y1="527.5" x2="238.5" y2="697.0" stroke="#cce5ba" stroke-width="1"/>
<line x1="268.5" y1="527.5" x2="268.5" y2="697.0" stroke="#cce5ba" stroke-width="1"/>
<line x1="295.5" y1="527.5" x2="295.5" y2="697.0" stroke="#cce5ba" stroke-width="1"/>
<line x1="322.5" y1="527.5" x2="322.5" y2="697.0" stroke="#cce5ba" stroke-width="1"/>
<line x1="352.5" y1="527.5" x2="352.5" y2="697.0" stroke="#cce5ba" stroke-width="1"/>
<line x1="377.5" y1="527.5" x2="377.5" y2="697.0" stroke="#cce5ba" stroke-width="1"/>
<line x1="406.5" y1="527.5" x2="406.5" y2="697.0" stroke="#cce5ba" stroke-width="1"/>
<line x1="434.5" y1="527.5" x2="434.5" y2="697.0" stroke="#cce5ba" stroke-width="1"/>
<line x1="459.5" y1="527.5" x2="459.5" y2="697.0" stroke="#b8c99c" stroke-width="1"/>
<line x1="486.5" y1="527.5" x2="486.5" y2="697.0" stroke="#cce5ba" stroke-width="1"/>
<line x1="512.5" y1="527.5" x2="512.5" y2="697.0" stroke="#cce5ba" stroke-width="1"/>
<line x1="538.5" y1="527.5" x2="538.5" y2="697.0" stroke="#cce5ba" stroke-width="1"/>
<line x1="566.5" y1="527.5" x2="566.5" y2="697.0" stroke="#cce5ba" stroke-width="1"/>
<line x1="593.5" y1="527.5" x2="593.5" y2="697.0" stroke="#cce5ba" stroke-width="1"/>
<line x1="620.5" y1="527.5" x2="620.5" y2="697.0" stroke="#cce5ba" stroke-width="1"/>
<line x1="649.5" y1="527.5" x2="649.5" y2="697.0" stroke="#cce5ba" stroke-width="1"/>
<line x1="676.5" y1="527.5" x2="676.5" y2="697.0" stroke="#cce5ba" stroke-width="1"/>
<line x1="704.5" y1="527.5" x2="704.5" y2="697.0" stroke="#cce5ba" stroke-width="1"/>
<line x1="733.5" y1="527.5" x2="733.5" y2="697.0" stroke="#cce5ba" stroke-width="1"/>
<line x1="758.5" y1="527.5" x2="758.5" y2="697.0" stroke="#cce5ba" stroke-width="1"/>
<line x1="786.5" y1="527.5" x2="786.5" y2="697.0" stroke="#b8c99c" stroke-width="1"/>
<line x1="812.5" y1="527.5" x2="812.5" y2="697.0" stroke="#cce5ba" stroke-width="1"/>
<line x1="836.5" y1="527.5" x2="836.5" y2="697.0" stroke="#cce5ba" stroke-width="1"/>
<line x1="864.5" y1="527.5" x2="864.5" y2="697.0" stroke="#cce5ba" stroke-width="1"/>
<line x1="891.5" y1="527.5" x2="891.5" y2="697.0" stroke="#cce5ba" stroke-width="1"/>
<line x1="917.5" y1="527.5" x2="917.5" y2="697.0" stroke="#cce5ba" stroke-width="1"/>
<line x1="945.5" y1="527.5" x2="945.5" y2="697.0" stroke="#cce5ba" stroke-width="1"/>
<line x1="975.5" y1="527.5" x2="975.5" y2="697.0" stroke="#cce5ba" stroke-width="1"/>
<line x1="1002.5" y1="527.5" x2="1002.5" y2="697.0" stroke="#cce5ba" stroke-width="1"/>
<line x1="1029.5" y1="527.5" x2="1029.5" y2="697.0" stroke="#cce5ba" stroke-width="1"/>
<line x1="1057.5" y1="527.5" x2="1057.5" y2="697.0" stroke="#cce5ba" stroke-width="1"/>
<line x1="1083.5" y1="527.5" x2="1083.5" y2="697.0" stroke="#cce5ba" stroke-width="1"/>
<line x1="1111.5" y1="527.5" x2="1111.5" y2="697.0" stroke="#b8c99c" stroke-width="1"/>
<line x1="1136.5" y1="527.5" x2="1136.5" y2="697.0" stroke="#cce5ba" stroke-width="1"/>
</g>
<polyline clip-path="url(#cs)" points="48.0,573.3 50.8,575.0 53.3,570.8 56.7,571.7 60.0,570.0 62.5,568.7 65.0,569.2 68.3,567.5 71.7,566.3 74.7,564.7 76.7,566.3 79.2,566.7 82.0,569.2 85.0,565.8 88.3,565.8 91.7,563.7 95.0,562.0 99.2,561.3 100.8,563.3 102.5,565.8 105.0,562.5 108.3,560.3 111.7,560.8 115.0,560.3 119.2,558.3 122.5,558.7 126.7,560.0 130.0,558.3 134.2,560.0 137.5,560.3 140.8,559.7 143.3,557.5 146.7,557.0 150.0,557.5 152.5,555.8 155.0,558.3 158.3,555.0 161.7,554.2 165.0,554.2 168.3,555.8 171.7,552.5 176.7,552.0 179.7,553.3 180.8,562.5 182.5,562.5 185.0,565.0 187.0,567.0 188.3,564.2 190.8,563.0 193.3,561.3 195.0,565.8 197.5,565.0 199.2,563.3 201.7,557.5 204.2,555.8 207.5,556.7 209.2,559.2 211.7,558.3 215.0,555.8 219.2,554.7 221.7,555.0 225.0,551.3 228.3,549.2 230.8,550.0 234.2,545.8 237.5,547.5 240.0,545.4 243.3,543.7 246.7,544.2 248.3,546.7 250.8,544.7 253.3,543.7 256.7,541.3 259.7,541.7 261.3,543.7 263.3,542.0 266.7,540.0 269.7,538.3 272.5,542.5 274.2,546.7 275.8,544.7 277.5,546.7 280.0,541.7 281.7,539.7 284.2,540.0 285.8,541.7 288.3,544.2 290.8,546.7 293.3,544.2 296.7,541.7 300.0,540.8 302.5,542.5 305.0,537.0 307.5,536.3 310.8,536.7 313.3,538.7 315.8,542.5 317.5,546.7 319.2,551.7 321.7,550.8 323.3,552.5 325.3,555.8 326.7,550.8 329.2,546.7 330.8,552.5 333.0,555.0 335.8,560.8 337.5,560.0 339.2,555.0 341.7,554.2 345.0,549.7 346.7,556.7 349.2,551.7 352.5,547.5 355.0,550.0 357.0,553.3 359.2,550.0 361.7,548.3 364.2,549.2 365.8,540.8 368.3,541.3 371.7,541.7 375.0,539.7 377.5,537.5 380.0,538.0 382.5,535.8 385.8,534.7 388.3,535.0 390.8,537.0 393.3,539.2 395.8,545.0 398.3,542.5 400.8,540.0 402.5,538.3 405.0,537.0 406.7,543.3 410.0,541.7 412.5,549.2 415.0,555.0 416.7,550.0 420.0,552.5 422.5,555.8 425.0,558.3 427.5,560.8 430.0,551.7 432.5,549.2 435.0,551.7 437.5,544.2 439.7,542.2 441.7,547.5 444.2,548.3 446.7,554.2 449.2,553.3 451.7,548.3 453.3,545.8 455.8,549.2 458.3,550.0 460.8,555.8 462.5,560.0 465.0,563.3 466.7,560.0 468.3,562.5 470.0,560.0 471.7,566.7 473.3,571.7 475.0,575.8 476.7,578.3 478.3,572.5 480.0,574.2 481.7,570.0 484.2,569.2 486.3,564.2 488.3,566.7 490.0,575.0 492.5,574.2 495.0,572.5 497.0,569.2 499.2,571.7 501.7,570.8 503.3,572.5 505.8,567.5 508.3,566.3 510.0,570.0 511.7,574.2 514.7,575.0 516.7,580.0 519.2,584.7 520.8,577.5 523.3,578.3 525.0,584.2 526.7,575.8 528.3,576.7 530.8,572.5 532.5,571.3 535.8,577.5 538.3,568.3 541.7,568.0 544.2,568.3 546.3,570.8 548.3,575.0 550.0,575.0 552.0,569.2 554.7,565.0 556.7,566.7 559.2,565.0 561.7,563.7 564.2,565.0 566.7,560.8 569.2,560.0 570.8,560.3 572.5,564.2 574.2,563.0 576.7,562.0 579.2,558.3 581.7,558.7 584.2,562.5 586.7,565.0 588.3,566.7 590.8,563.7 593.0,562.5 595.0,565.8 597.5,563.0 599.2,569.2 601.7,571.7 603.3,573.3 605.8,570.0 608.3,570.3 610.0,572.5 611.7,574.2 614.2,575.8 615.8,578.3 617.5,582.5 620.0,583.0 622.5,586.7 624.2,587.5 625.8,585.0 628.3,589.2 630.8,590.8 632.4,595.0 634.9,588.5 637.9,587.5 639.8,584.0 641.8,587.5 644.1,591.0 646.7,583.6 648.7,586.5 650.6,589.1 653.2,582.0 655.1,585.1 657.5,580.0 660.5,582.0 663.0,581.2 665.8,585.5 668.3,583.6 670.3,585.5 672.2,582.6 674.2,580.0 676.2,583.6 678.7,591.0 681.1,585.5 683.0,591.4 685.0,591.0 687.0,589.1 688.5,596.3 690.5,606.2 691.9,597.3 693.3,589.1 695.2,599.3 697.8,599.3 699.7,595.4 700.7,614.6 702.3,604.2 704.3,606.2 706.6,618.9 708.6,624.8 709.6,634.7 712.1,650.4 714.1,632.7 715.5,633.1 716.4,650.0 718.4,642.5 720.8,636.2 722.3,643.5 724.3,650.8 726.9,659.2 728.6,644.5 731.2,640.6 733.1,637.6 735.1,632.7 737.1,648.4 739.0,645.5 741.0,651.4 743.0,658.2 744.3,649.4 745.9,657.2 747.5,659.2 748.9,668.1 750.2,675.9 751.8,665.1 753.4,658.2 755.7,651.9 758.1,664.1 760.1,656.3 761.6,660.2 764.6,649.4 766.5,650.8 768.5,655.3 770.5,656.3 772.4,649.4 775.4,652.3 778.3,656.3 781.3,655.9 783.2,654.3 786.2,644.9 788.9,644.8 791.2,649.4 793.5,654.8 795.8,659.4 798.1,660.2 800.4,666.4 802.0,662.5 804.3,661.8 806.6,659.4 808.5,655.6 810.5,662.5 812.5,663.8 814.3,661.0 815.9,660.2 817.7,655.6 819.7,661.8 822.0,662.5 824.4,667.2 825.9,670.2 828.2,673.3 829.8,677.2 831.3,674.1 833.6,678.0 835.2,681.0 836.7,685.7 839.0,684.1 840.6,688.0 842.9,690.3 844.4,682.6 846.0,678.0 848.3,674.9 850.6,671.8 852.1,669.5 854.4,673.3 856.0,664.8 858.3,666.4 859.8,662.5 862.2,669.5 864.5,665.6 867.6,661.0 869.9,664.8 872.2,658.7 873.7,657.9 875.7,661.0 878.4,656.4 880.4,661.8 883.0,659.4 886.1,657.1 888.4,657.9 891.5,654.8 893.8,649.4 895.8,647.1 897.7,648.6 898.9,645.9 900.7,647.9 902.6,653.3 904.6,651.7 906.9,648.6 909.2,649.4 910.8,651.7 913.1,649.4 915.4,649.4 917.7,643.2 920.8,643.7 924.7,643.2 929.3,642.8 931.6,647.9 934.7,647.9 936.2,647.1 937.8,651.0 940.1,647.1 941.8,646.4 944.6,646.0 947.3,649.7 950.1,653.3 952.8,654.2 955.6,650.6 957.4,645.1 960.2,643.2 962.9,640.5 965.7,637.7 967.5,635.9 970.2,636.8 973.0,634.6 975.7,632.2 978.5,632.2 981.2,631.3 983.1,633.5 985.5,631.3 987.7,636.8 990.4,633.2 993.2,628.6 995.9,628.0 998.7,628.0 1001.4,631.3 1003.2,634.1 1005.6,630.4 1008.7,626.7 1011.5,624.9 1014.2,621.2 1017.0,620.7 1019.7,620.7 1022.5,624.0 1025.2,621.8 1027.6,624.0 1029.8,628.0 1032.6,623.6 1035.3,621.2 1038.1,619.4 1040.5,616.3 1042.7,615.7 1045.4,616.7 1048.2,617.6 1050.9,620.7 1053.7,624.0 1055.9,625.8 1058.2,625.5 1060.6,622.2 1063.2,618.5 1065.6,616.3 1068.3,616.7 1071.1,613.9 1073.8,615.7 1076.6,615.2 1079.3,613.9 1081.2,617.6 1083.9,613.9 1086.7,614.8 1090.3,616.3 1093.1,613.9 1095.8,613.0 1098.6,614.8 1101.3,612.1 1105.0,610.8 1108.7,610.2 1110.5,612.1 1112.3,609.0 1116.0,607.5 1119.7,607.5 1121.5,606.6 1124.2,607.1 1125.5,607.5 1127.0,612.1 1128.8,615.7 1131.6,615.7 1134.3,620.0 1136.2,616.7 1138.0,614.8 1139.8,619.4 1142.6,623.1 1144.4,621.2 1147.2,619.4 1149.0,617.6 1150.8,615.7 1152.7,613.9" fill="none" stroke="#1a1a1a" stroke-width="1.45" stroke-linejoin="round"/>
<rect x="50.3" y="533.1" width="8.7" height="1.9" fill="#000"/>
<text x="62.5" y="537.9" font-size="10.0" fill="#111" font-weight="normal" text-anchor="start" textLength="113.8" lengthAdjust="spacingAndGlyphs" stroke="#111" stroke-width="0.15">$SPX (Daily) 1109.17</text>
<rect x="47.5" y="527.5" width="1110.0" height="169.5" fill="none" stroke="#c9c49a" stroke-width="1" shape-rendering="crispEdges"/>
<text x="45.0" y="55.7" font-size="10.0" fill="#000" font-weight="normal" text-anchor="end" stroke="#000" stroke-width="0.20">10%</text>
<line x1="46" y1="51.8" x2="47.5" y2="51.8" stroke="#c9c49a" stroke-width="1"/>
<text x="45.0" y="76.4" font-size="10.0" fill="#000" font-weight="normal" text-anchor="end" stroke="#000" stroke-width="0.20">5%</text>
<line x1="46" y1="72.5" x2="47.5" y2="72.5" stroke="#c9c49a" stroke-width="1"/>
<text x="45.0" y="97.0" font-size="10.0" fill="#000" font-weight="normal" text-anchor="end" stroke="#000" stroke-width="0.20">0%</text>
<line x1="46" y1="93.1" x2="47.5" y2="93.1" stroke="#c9c49a" stroke-width="1"/>
<text x="45.0" y="117.6" font-size="10.0" fill="#000" font-weight="normal" text-anchor="end" stroke="#000" stroke-width="0.20">-5%</text>
<line x1="46" y1="113.7" x2="47.5" y2="113.7" stroke="#c9c49a" stroke-width="1"/>
<text x="45.0" y="138.3" font-size="10.0" fill="#000" font-weight="normal" text-anchor="end" stroke="#000" stroke-width="0.20">-10%</text>
<line x1="46" y1="134.4" x2="47.5" y2="134.4" stroke="#c9c49a" stroke-width="1"/>
<text x="45.0" y="158.9" font-size="10.0" fill="#000" font-weight="normal" text-anchor="end" stroke="#000" stroke-width="0.20">-15%</text>
<line x1="46" y1="155.0" x2="47.5" y2="155.0" stroke="#c9c49a" stroke-width="1"/>
<text x="45.0" y="179.6" font-size="10.0" fill="#000" font-weight="normal" text-anchor="end" stroke="#000" stroke-width="0.20">-20%</text>
<line x1="46" y1="175.7" x2="47.5" y2="175.7" stroke="#c9c49a" stroke-width="1"/>
<text x="45.0" y="200.2" font-size="10.0" fill="#000" font-weight="normal" text-anchor="end" stroke="#000" stroke-width="0.20">-25%</text>
<line x1="46" y1="196.3" x2="47.5" y2="196.3" stroke="#c9c49a" stroke-width="1"/>
<text x="45.0" y="220.8" font-size="10.0" fill="#000" font-weight="normal" text-anchor="end" stroke="#000" stroke-width="0.20">-30%</text>
<line x1="46" y1="216.9" x2="47.5" y2="216.9" stroke="#c9c49a" stroke-width="1"/>
<text x="45.0" y="241.5" font-size="10.0" fill="#000" font-weight="normal" text-anchor="end" stroke="#000" stroke-width="0.20">-35%</text>
<line x1="46" y1="237.6" x2="47.5" y2="237.6" stroke="#c9c49a" stroke-width="1"/>
<text x="45.0" y="262.1" font-size="10.0" fill="#000" font-weight="normal" text-anchor="end" stroke="#000" stroke-width="0.20">-40%</text>
<line x1="46" y1="258.2" x2="47.5" y2="258.2" stroke="#c9c49a" stroke-width="1"/>
<text x="45.0" y="282.8" font-size="10.0" fill="#000" font-weight="normal" text-anchor="end" stroke="#000" stroke-width="0.20">-45%</text>
<line x1="46" y1="278.9" x2="47.5" y2="278.9" stroke="#c9c49a" stroke-width="1"/>
<text x="45.0" y="303.4" font-size="10.0" fill="#000" font-weight="normal" text-anchor="end" stroke="#000" stroke-width="0.20">-50%</text>
<line x1="46" y1="299.5" x2="47.5" y2="299.5" stroke="#c9c49a" stroke-width="1"/>
<text x="45.0" y="324.0" font-size="10.0" fill="#000" font-weight="normal" text-anchor="end" stroke="#000" stroke-width="0.20">-55%</text>
<line x1="46" y1="320.1" x2="47.5" y2="320.1" stroke="#c9c49a" stroke-width="1"/>
<text x="45.0" y="344.7" font-size="10.0" fill="#000" font-weight="normal" text-anchor="end" stroke="#000" stroke-width="0.20">-60%</text>
<line x1="46" y1="340.8" x2="47.5" y2="340.8" stroke="#c9c49a" stroke-width="1"/>
<text x="45.0" y="365.3" font-size="10.0" fill="#000" font-weight="normal" text-anchor="end" stroke="#000" stroke-width="0.20">-65%</text>
<line x1="46" y1="361.4" x2="47.5" y2="361.4" stroke="#c9c49a" stroke-width="1"/>
<text x="45.0" y="386.0" font-size="10.0" fill="#000" font-weight="normal" text-anchor="end" stroke="#000" stroke-width="0.20">-70%</text>
<line x1="46" y1="382.1" x2="47.5" y2="382.1" stroke="#c9c49a" stroke-width="1"/>
<text x="45.0" y="406.6" font-size="10.0" fill="#000" font-weight="normal" text-anchor="end" stroke="#000" stroke-width="0.20">-75%</text>
<line x1="46" y1="402.7" x2="47.5" y2="402.7" stroke="#c9c49a" stroke-width="1"/>
<text x="45.0" y="427.2" font-size="10.0" fill="#000" font-weight="normal" text-anchor="end" stroke="#000" stroke-width="0.20">-80%</text>
<line x1="46" y1="423.3" x2="47.5" y2="423.3" stroke="#c9c49a" stroke-width="1"/>
<text x="45.0" y="447.9" font-size="10.0" fill="#000" font-weight="normal" text-anchor="end" stroke="#000" stroke-width="0.20">-85%</text>
<line x1="46" y1="444.0" x2="47.5" y2="444.0" stroke="#c9c49a" stroke-width="1"/>
<text x="45.0" y="468.5" font-size="10.0" fill="#000" font-weight="normal" text-anchor="end" stroke="#000" stroke-width="0.20">-90%</text>
<line x1="46" y1="464.6" x2="47.5" y2="464.6" stroke="#c9c49a" stroke-width="1"/>
<text x="45.0" y="489.2" font-size="10.0" fill="#000" font-weight="normal" text-anchor="end" stroke="#000" stroke-width="0.20">-95%</text>
<line x1="46" y1="485.3" x2="47.5" y2="485.3" stroke="#c9c49a" stroke-width="1"/>
<text x="45.0" y="509.8" font-size="10.0" fill="#000" font-weight="normal" text-anchor="end" stroke="#000" stroke-width="0.20">-100%</text>
<line x1="46" y1="505.9" x2="47.5" y2="505.9" stroke="#c9c49a" stroke-width="1"/>
<text x="1161.0" y="490.0" font-size="9.6" fill="#000" font-weight="normal" text-anchor="start" stroke="#000" stroke-width="0.20">72</text>
<line x1="1157.5" y1="486.5" x2="1160" y2="486.5" stroke="#c9c49a" stroke-width="1"/>
<text x="1161.0" y="461.0" font-size="9.6" fill="#000" font-weight="normal" text-anchor="start" stroke="#000" stroke-width="0.20">73</text>
<line x1="1157.5" y1="457.5" x2="1160" y2="457.5" stroke="#c9c49a" stroke-width="1"/>
<text x="1161.0" y="432.0" font-size="9.6" fill="#000" font-weight="normal" text-anchor="start" stroke="#000" stroke-width="0.20">74</text>
<line x1="1157.5" y1="428.5" x2="1160" y2="428.5" stroke="#c9c49a" stroke-width="1"/>
<text x="1161.0" y="403.0" font-size="9.6" fill="#000" font-weight="normal" text-anchor="start" stroke="#000" stroke-width="0.20">75</text>
<line x1="1157.5" y1="399.5" x2="1160" y2="399.5" stroke="#c9c49a" stroke-width="1"/>
<text x="1161.0" y="375.0" font-size="9.6" fill="#000" font-weight="normal" text-anchor="start" stroke="#000" stroke-width="0.20">76</text>
<line x1="1157.5" y1="371.5" x2="1160" y2="371.5" stroke="#c9c49a" stroke-width="1"/>
<text x="1161.0" y="348.0" font-size="9.6" fill="#000" font-weight="normal" text-anchor="start" stroke="#000" stroke-width="0.20">77</text>
<line x1="1157.5" y1="344.5" x2="1160" y2="344.5" stroke="#c9c49a" stroke-width="1"/>
<text x="1161.0" y="320.0" font-size="9.6" fill="#000" font-weight="normal" text-anchor="start" stroke="#000" stroke-width="0.20">78</text>
<line x1="1157.5" y1="316.5" x2="1160" y2="316.5" stroke="#c9c49a" stroke-width="1"/>
<text x="1161.0" y="294.0" font-size="9.6" fill="#000" font-weight="normal" text-anchor="start" stroke="#000" stroke-width="0.20">79</text>
<line x1="1157.5" y1="290.5" x2="1160" y2="290.5" stroke="#c9c49a" stroke-width="1"/>
<text x="1161.0" y="267.0" font-size="9.6" fill="#000" font-weight="normal" text-anchor="start" stroke="#000" stroke-width="0.20">80</text>
<line x1="1157.5" y1="263.5" x2="1160" y2="263.5" stroke="#c9c49a" stroke-width="1"/>
<text x="1161.0" y="241.0" font-size="9.6" fill="#000" font-weight="normal" text-anchor="start" stroke="#000" stroke-width="0.20">81</text>
<line x1="1157.5" y1="237.5" x2="1160" y2="237.5" stroke="#c9c49a" stroke-width="1"/>
<text x="1161.0" y="215.0" font-size="9.6" fill="#000" font-weight="normal" text-anchor="start" stroke="#000" stroke-width="0.20">82</text>
<line x1="1157.5" y1="211.5" x2="1160" y2="211.5" stroke="#c9c49a" stroke-width="1"/>
<text x="1161.0" y="190.0" font-size="9.6" fill="#000" font-weight="normal" text-anchor="start" stroke="#000" stroke-width="0.20">83</text>
<line x1="1157.5" y1="186.5" x2="1160" y2="186.5" stroke="#c9c49a" stroke-width="1"/>
<text x="1161.0" y="165.0" font-size="9.6" fill="#000" font-weight="normal" text-anchor="start" stroke="#000" stroke-width="0.20">84</text>
<line x1="1157.5" y1="161.5" x2="1160" y2="161.5" stroke="#c9c49a" stroke-width="1"/>
<text x="1161.0" y="139.0" font-size="9.6" fill="#000" font-weight="normal" text-anchor="start" stroke="#000" stroke-width="0.20">85</text>
<line x1="1157.5" y1="135.5" x2="1160" y2="135.5" stroke="#c9c49a" stroke-width="1"/>
<text x="1161.0" y="114.0" font-size="9.6" fill="#000" font-weight="normal" text-anchor="start" stroke="#000" stroke-width="0.20">86</text>
<line x1="1157.5" y1="110.5" x2="1160" y2="110.5" stroke="#c9c49a" stroke-width="1"/>
<text x="1161.0" y="90.0" font-size="9.6" fill="#000" font-weight="normal" text-anchor="start" stroke="#000" stroke-width="0.20">87</text>
<line x1="1157.5" y1="86.5" x2="1160" y2="86.5" stroke="#c9c49a" stroke-width="1"/>
<text x="1161.0" y="66.0" font-size="9.6" fill="#000" font-weight="normal" text-anchor="start" stroke="#000" stroke-width="0.20">88</text>
<line x1="1157.5" y1="62.5" x2="1160" y2="62.5" stroke="#c9c49a" stroke-width="1"/>
<text x="1161.0" y="43.0" font-size="9.6" fill="#000" font-weight="normal" text-anchor="start" stroke="#000" stroke-width="0.20">89</text>
<line x1="1157.5" y1="39.5" x2="1160" y2="39.5" stroke="#c9c49a" stroke-width="1"/>
<text x="1161.5" y="689.0" font-size="9.6" fill="#000" font-weight="normal" text-anchor="start" stroke="#000" stroke-width="0.20">700</text>
<line x1="1157.5" y1="685.5" x2="1160" y2="685.5" stroke="#c9c49a" stroke-width="1"/>
<text x="1161.5" y="671.5" font-size="9.6" fill="#000" font-weight="normal" text-anchor="start" stroke="#000" stroke-width="0.20">800</text>
<line x1="1157.5" y1="668.0" x2="1160" y2="668.0" stroke="#c9c49a" stroke-width="1"/>
<text x="1161.5" y="653.9" font-size="9.6" fill="#000" font-weight="normal" text-anchor="start" stroke="#000" stroke-width="0.20">900</text>
<line x1="1157.5" y1="650.4" x2="1160" y2="650.4" stroke="#c9c49a" stroke-width="1"/>
<text x="1161.5" y="636.4" font-size="9.6" fill="#000" font-weight="normal" text-anchor="start" stroke="#000" stroke-width="0.20">1000</text>
<line x1="1157.5" y1="632.9" x2="1160" y2="632.9" stroke="#c9c49a" stroke-width="1"/>
<text x="1161.5" y="601.4" font-size="9.6" fill="#000" font-weight="normal" text-anchor="start" stroke="#000" stroke-width="0.20">1200</text>
<line x1="1157.5" y1="597.9" x2="1160" y2="597.9" stroke="#c9c49a" stroke-width="1"/>
<text x="1161.5" y="583.8" font-size="9.6" fill="#000" font-weight="normal" text-anchor="start" stroke="#000" stroke-width="0.20">1300</text>
<line x1="1157.5" y1="580.3" x2="1160" y2="580.3" stroke="#c9c49a" stroke-width="1"/>
<text x="1161.5" y="566.3" font-size="9.6" fill="#000" font-weight="normal" text-anchor="start" stroke="#000" stroke-width="0.20">1400</text>
<line x1="1157.5" y1="562.8" x2="1160" y2="562.8" stroke="#c9c49a" stroke-width="1"/>
<text x="1161.5" y="548.8" font-size="9.6" fill="#000" font-weight="normal" text-anchor="start" stroke="#000" stroke-width="0.20">1500</text>
<line x1="1157.5" y1="545.3" x2="1160" y2="545.3" stroke="#c9c49a" stroke-width="1"/>
<line x1="1157.5" y1="486.5" x2="1159.2" y2="486.5" stroke="#c9c49a" stroke-width="0.9"/>
<line x1="1157.5" y1="480.5" x2="1159.2" y2="480.5" stroke="#c9c49a" stroke-width="0.9"/>
<line x1="1157.5" y1="474.6" x2="1159.2" y2="474.6" stroke="#c9c49a" stroke-width="0.9"/>
<line x1="1157.5" y1="468.8" x2="1159.2" y2="468.8" stroke="#c9c49a" stroke-width="0.9"/>
<line x1="1157.5" y1="463.0" x2="1159.2" y2="463.0" stroke="#c9c49a" stroke-width="0.9"/>
<line x1="1157.5" y1="457.5" x2="1159.2" y2="457.5" stroke="#c9c49a" stroke-width="0.9"/>
<line x1="1157.5" y1="451.4" x2="1159.2" y2="451.4" stroke="#c9c49a" stroke-width="0.9"/>
<line x1="1157.5" y1="445.6" x2="1159.2" y2="445.6" stroke="#c9c49a" stroke-width="0.9"/>
<line x1="1157.5" y1="439.8" x2="1159.2" y2="439.8" stroke="#c9c49a" stroke-width="0.9"/>
<line x1="1157.5" y1="434.1" x2="1159.2" y2="434.1" stroke="#c9c49a" stroke-width="0.9"/>
<line x1="1157.5" y1="428.5" x2="1159.2" y2="428.5" stroke="#c9c49a" stroke-width="0.9"/>
<line x1="1157.5" y1="422.6" x2="1159.2" y2="422.6" stroke="#c9c49a" stroke-width="0.9"/>
<line x1="1157.5" y1="416.9" x2="1159.2" y2="416.9" stroke="#c9c49a" stroke-width="0.9"/>
<line x1="1157.5" y1="411.2" x2="1159.2" y2="411.2" stroke="#c9c49a" stroke-width="0.9"/>
<line x1="1157.5" y1="405.6" x2="1159.2" y2="405.6" stroke="#c9c49a" stroke-width="0.9"/>
<line x1="1157.5" y1="399.5" x2="1159.2" y2="399.5" stroke="#c9c49a" stroke-width="0.9"/>
<line x1="1157.5" y1="394.3" x2="1159.2" y2="394.3" stroke="#c9c49a" stroke-width="0.9"/>
<line x1="1157.5" y1="388.7" x2="1159.2" y2="388.7" stroke="#c9c49a" stroke-width="0.9"/>
<line x1="1157.5" y1="383.1" x2="1159.2" y2="383.1" stroke="#c9c49a" stroke-width="0.9"/>
<line x1="1157.5" y1="377.5" x2="1159.2" y2="377.5" stroke="#c9c49a" stroke-width="0.9"/>
<line x1="1157.5" y1="371.5" x2="1159.2" y2="371.5" stroke="#c9c49a" stroke-width="0.9"/>
<line x1="1157.5" y1="366.4" x2="1159.2" y2="366.4" stroke="#c9c49a" stroke-width="0.9"/>
<line x1="1157.5" y1="360.8" x2="1159.2" y2="360.8" stroke="#c9c49a" stroke-width="0.9"/>
<line x1="1157.5" y1="355.3" x2="1159.2" y2="355.3" stroke="#c9c49a" stroke-width="0.9"/>
<line x1="1157.5" y1="349.8" x2="1159.2" y2="349.8" stroke="#c9c49a" stroke-width="0.9"/>
<line x1="1157.5" y1="344.5" x2="1159.2" y2="344.5" stroke="#c9c49a" stroke-width="0.9"/>
<line x1="1157.5" y1="338.8" x2="1159.2" y2="338.8" stroke="#c9c49a" stroke-width="0.9"/>
<line x1="1157.5" y1="333.3" x2="1159.2" y2="333.3" stroke="#c9c49a" stroke-width="0.9"/>
<line x1="1157.5" y1="327.9" x2="1159.2" y2="327.9" stroke="#c9c49a" stroke-width="0.9"/>
<line x1="1157.5" y1="322.5" x2="1159.2" y2="322.5" stroke="#c9c49a" stroke-width="0.9"/>
<line x1="1157.5" y1="316.5" x2="1159.2" y2="316.5" stroke="#c9c49a" stroke-width="0.9"/>
<line x1="1157.5" y1="311.6" x2="1159.2" y2="311.6" stroke="#c9c49a" stroke-width="0.9"/>
<line x1="1157.5" y1="306.2" x2="1159.2" y2="306.2" stroke="#c9c49a" stroke-width="0.9"/>
<line x1="1157.5" y1="300.9" x2="1159.2" y2="300.9" stroke="#c9c49a" stroke-width="0.9"/>
<line x1="1157.5" y1="295.5" x2="1159.2" y2="295.5" stroke="#c9c49a" stroke-width="0.9"/>
<line x1="1157.5" y1="290.5" x2="1159.2" y2="290.5" stroke="#c9c49a" stroke-width="0.9"/>
<line x1="1157.5" y1="284.8" x2="1159.2" y2="284.8" stroke="#c9c49a" stroke-width="0.9"/>
<line x1="1157.5" y1="279.5" x2="1159.2" y2="279.5" stroke="#c9c49a" stroke-width="0.9"/>
<line x1="1157.5" y1="274.2" x2="1159.2" y2="274.2" stroke="#c9c49a" stroke-width="0.9"/>
<line x1="1157.5" y1="268.9" x2="1159.2" y2="268.9" stroke="#c9c49a" stroke-width="0.9"/>
<line x1="1157.5" y1="263.5" x2="1159.2" y2="263.5" stroke="#c9c49a" stroke-width="0.9"/>
<line x1="1157.5" y1="258.3" x2="1159.2" y2="258.3" stroke="#c9c49a" stroke-width="0.9"/>
<line x1="1157.5" y1="253.1" x2="1159.2" y2="253.1" stroke="#c9c49a" stroke-width="0.9"/>
<line x1="1157.5" y1="247.9" x2="1159.2" y2="247.9" stroke="#c9c49a" stroke-width="0.9"/>
<line x1="1157.5" y1="242.6" x2="1159.2" y2="242.6" stroke="#c9c49a" stroke-width="0.9"/>
<line x1="1157.5" y1="237.5" x2="1159.2" y2="237.5" stroke="#c9c49a" stroke-width="0.9"/>
<line x1="1157.5" y1="232.2" x2="1159.2" y2="232.2" stroke="#c9c49a" stroke-width="0.9"/>
<line x1="1157.5" y1="227.0" x2="1159.2" y2="227.0" stroke="#c9c49a" stroke-width="0.9"/>
<line x1="1157.5" y1="221.9" x2="1159.2" y2="221.9" stroke="#c9c49a" stroke-width="0.9"/>
<line x1="1157.5" y1="216.7" x2="1159.2" y2="216.7" stroke="#c9c49a" stroke-width="0.9"/>
<line x1="1157.5" y1="211.5" x2="1159.2" y2="211.5" stroke="#c9c49a" stroke-width="0.9"/>
<line x1="1157.5" y1="206.4" x2="1159.2" y2="206.4" stroke="#c9c49a" stroke-width="0.9"/>
<line x1="1157.5" y1="201.3" x2="1159.2" y2="201.3" stroke="#c9c49a" stroke-width="0.9"/>
<line x1="1157.5" y1="196.2" x2="1159.2" y2="196.2" stroke="#c9c49a" stroke-width="0.9"/>
<line x1="1157.5" y1="191.1" x2="1159.2" y2="191.1" stroke="#c9c49a" stroke-width="0.9"/>
<line x1="1157.5" y1="186.5" x2="1159.2" y2="186.5" stroke="#c9c49a" stroke-width="0.9"/>
<line x1="1157.5" y1="181.0" x2="1159.2" y2="181.0" stroke="#c9c49a" stroke-width="0.9"/>
<line x1="1157.5" y1="175.9" x2="1159.2" y2="175.9" stroke="#c9c49a" stroke-width="0.9"/>
<line x1="1157.5" y1="170.9" x2="1159.2" y2="170.9" stroke="#c9c49a" stroke-width="0.9"/>
<line x1="1157.5" y1="165.9" x2="1159.2" y2="165.9" stroke="#c9c49a" stroke-width="0.9"/>
<line x1="1157.5" y1="161.5" x2="1159.2" y2="161.5" stroke="#c9c49a" stroke-width="0.9"/>
<line x1="1157.5" y1="155.8" x2="1159.2" y2="155.8" stroke="#c9c49a" stroke-width="0.9"/>
<line x1="1157.5" y1="150.9" x2="1159.2" y2="150.9" stroke="#c9c49a" stroke-width="0.9"/>
<line x1="1157.5" y1="145.9" x2="1159.2" y2="145.9" stroke="#c9c49a" stroke-width="0.9"/>
<line x1="1157.5" y1="140.9" x2="1159.2" y2="140.9" stroke="#c9c49a" stroke-width="0.9"/>
<line x1="1157.5" y1="135.5" x2="1159.2" y2="135.5" stroke="#c9c49a" stroke-width="0.9"/>
<line x1="1157.5" y1="131.0" x2="1159.2" y2="131.0" stroke="#c9c49a" stroke-width="0.9"/>
<line x1="1157.5" y1="126.1" x2="1159.2" y2="126.1" stroke="#c9c49a" stroke-width="0.9"/>
<line x1="1157.5" y1="121.2" x2="1159.2" y2="121.2" stroke="#c9c49a" stroke-width="0.9"/>
<line x1="1157.5" y1="116.3" x2="1159.2" y2="116.3" stroke="#c9c49a" stroke-width="0.9"/>
<line x1="1157.5" y1="110.5" x2="1159.2" y2="110.5" stroke="#c9c49a" stroke-width="0.9"/>
<line x1="1157.5" y1="106.5" x2="1159.2" y2="106.5" stroke="#c9c49a" stroke-width="0.9"/>
<line x1="1157.5" y1="101.6" x2="1159.2" y2="101.6" stroke="#c9c49a" stroke-width="0.9"/>
<line x1="1157.5" y1="96.8" x2="1159.2" y2="96.8" stroke="#c9c49a" stroke-width="0.9"/>
<line x1="1157.5" y1="91.9" x2="1159.2" y2="91.9" stroke="#c9c49a" stroke-width="0.9"/>
<line x1="1157.5" y1="86.5" x2="1159.2" y2="86.5" stroke="#c9c49a" stroke-width="0.9"/>
<line x1="1157.5" y1="82.3" x2="1159.2" y2="82.3" stroke="#c9c49a" stroke-width="0.9"/>
<line x1="1157.5" y1="77.5" x2="1159.2" y2="77.5" stroke="#c9c49a" stroke-width="0.9"/>
<line x1="1157.5" y1="72.7" x2="1159.2" y2="72.7" stroke="#c9c49a" stroke-width="0.9"/>
<line x1="1157.5" y1="67.9" x2="1159.2" y2="67.9" stroke="#c9c49a" stroke-width="0.9"/>
<line x1="1157.5" y1="62.5" x2="1159.2" y2="62.5" stroke="#c9c49a" stroke-width="0.9"/>
<line x1="1157.5" y1="58.3" x2="1159.2" y2="58.3" stroke="#c9c49a" stroke-width="0.9"/>
<line x1="1157.5" y1="53.6" x2="1159.2" y2="53.6" stroke="#c9c49a" stroke-width="0.9"/>
<line x1="1157.5" y1="48.8" x2="1159.2" y2="48.8" stroke="#c9c49a" stroke-width="0.9"/>
<line x1="1157.5" y1="44.1" x2="1159.2" y2="44.1" stroke="#c9c49a" stroke-width="0.9"/>
<line x1="1157.5" y1="39.5" x2="1159.2" y2="39.5" stroke="#c9c49a" stroke-width="0.9"/>
<line x1="1157.5" y1="34.7" x2="1159.2" y2="34.7" stroke="#c9c49a" stroke-width="0.9"/>
<line x1="1157.5" y1="692.5" x2="1159.2" y2="692.5" stroke="#c9c49a" stroke-width="0.9"/>
<line x1="1157.5" y1="690.8" x2="1159.2" y2="690.8" stroke="#c9c49a" stroke-width="0.9"/>
<line x1="1157.5" y1="689.0" x2="1159.2" y2="689.0" stroke="#c9c49a" stroke-width="0.9"/>
<line x1="1157.5" y1="687.3" x2="1159.2" y2="687.3" stroke="#c9c49a" stroke-width="0.9"/>
<line x1="1157.5" y1="685.5" x2="1159.2" y2="685.5" stroke="#c9c49a" stroke-width="0.9"/>
<line x1="1157.5" y1="683.7" x2="1159.2" y2="683.7" stroke="#c9c49a" stroke-width="0.9"/>
<line x1="1157.5" y1="682.0" x2="1159.2" y2="682.0" stroke="#c9c49a" stroke-width="0.9"/>
<line x1="1157.5" y1="680.2" x2="1159.2" y2="680.2" stroke="#c9c49a" stroke-width="0.9"/>
<line x1="1157.5" y1="678.5" x2="1159.2" y2="678.5" stroke="#c9c49a" stroke-width="0.9"/>
<line x1="1157.5" y1="676.7" x2="1159.2" y2="676.7" stroke="#c9c49a" stroke-width="0.9"/>
<line x1="1157.5" y1="675.0" x2="1159.2" y2="675.0" stroke="#c9c49a" stroke-width="0.9"/>
<line x1="1157.5" y1="673.2" x2="1159.2" y2="673.2" stroke="#c9c49a" stroke-width="0.9"/>
<line x1="1157.5" y1="671.5" x2="1159.2" y2="671.5" stroke="#c9c49a" stroke-width="0.9"/>
<line x1="1157.5" y1="669.7" x2="1159.2" y2="669.7" stroke="#c9c49a" stroke-width="0.9"/>
<line x1="1157.5" y1="668.0" x2="1159.2" y2="668.0" stroke="#c9c49a" stroke-width="0.9"/>
<line x1="1157.5" y1="666.2" x2="1159.2" y2="666.2" stroke="#c9c49a" stroke-width="0.9"/>
<line x1="1157.5" y1="664.5" x2="1159.2" y2="664.5" stroke="#c9c49a" stroke-width="0.9"/>
<line x1="1157.5" y1="662.7" x2="1159.2" y2="662.7" stroke="#c9c49a" stroke-width="0.9"/>
<line x1="1157.5" y1="661.0" x2="1159.2" y2="661.0" stroke="#c9c49a" stroke-width="0.9"/>
<line x1="1157.5" y1="659.2" x2="1159.2" y2="659.2" stroke="#c9c49a" stroke-width="0.9"/>
<line x1="1157.5" y1="657.5" x2="1159.2" y2="657.5" stroke="#c9c49a" stroke-width="0.9"/>
<line x1="1157.5" y1="655.7" x2="1159.2" y2="655.7" stroke="#c9c49a" stroke-width="0.9"/>
<line x1="1157.5" y1="654.0" x2="1159.2" y2="654.0" stroke="#c9c49a" stroke-width="0.9"/>
<line x1="1157.5" y1="652.2" x2="1159.2" y2="652.2" stroke="#c9c49a" stroke-width="0.9"/>
<line x1="1157.5" y1="650.4" x2="1159.2" y2="650.4" stroke="#c9c49a" stroke-width="0.9"/>
<line x1="1157.5" y1="648.7" x2="1159.2" y2="648.7" stroke="#c9c49a" stroke-width="0.9"/>
<line x1="1157.5" y1="646.9" x2="1159.2" y2="646.9" stroke="#c9c49a" stroke-width="0.9"/>
<line x1="1157.5" y1="645.2" x2="1159.2" y2="645.2" stroke="#c9c49a" stroke-width="0.9"/>
<line x1="1157.5" y1="643.4" x2="1159.2" y2="643.4" stroke="#c9c49a" stroke-width="0.9"/>
<line x1="1157.5" y1="641.7" x2="1159.2" y2="641.7" stroke="#c9c49a" stroke-width="0.9"/>
<line x1="1157.5" y1="639.9" x2="1159.2" y2="639.9" stroke="#c9c49a" stroke-width="0.9"/>
<line x1="1157.5" y1="638.2" x2="1159.2" y2="638.2" stroke="#c9c49a" stroke-width="0.9"/>
<line x1="1157.5" y1="636.4" x2="1159.2" y2="636.4" stroke="#c9c49a" stroke-width="0.9"/>
<line x1="1157.5" y1="634.7" x2="1159.2" y2="634.7" stroke="#c9c49a" stroke-width="0.9"/>
<line x1="1157.5" y1="632.9" x2="1159.2" y2="632.9" stroke="#c9c49a" stroke-width="0.9"/>
<line x1="1157.5" y1="631.2" x2="1159.2" y2="631.2" stroke="#c9c49a" stroke-width="0.9"/>
<line x1="1157.5" y1="629.4" x2="1159.2" y2="629.4" stroke="#c9c49a" stroke-width="0.9"/>
<line x1="1157.5" y1="627.7" x2="1159.2" y2="627.7" stroke="#c9c49a" stroke-width="0.9"/>
<line x1="1157.5" y1="625.9" x2="1159.2" y2="625.9" stroke="#c9c49a" stroke-width="0.9"/>
<line x1="1157.5" y1="624.2" x2="1159.2" y2="624.2" stroke="#c9c49a" stroke-width="0.9"/>
<line x1="1157.5" y1="622.4" x2="1159.2" y2="622.4" stroke="#c9c49a" stroke-width="0.9"/>
<line x1="1157.5" y1="620.7" x2="1159.2" y2="620.7" stroke="#c9c49a" stroke-width="0.9"/>
<line x1="1157.5" y1="618.9" x2="1159.2" y2="618.9" stroke="#c9c49a" stroke-width="0.9"/>
<line x1="1157.5" y1="617.2" x2="1159.2" y2="617.2" stroke="#c9c49a" stroke-width="0.9"/>
<line x1="1157.5" y1="615.4" x2="1159.2" y2="615.4" stroke="#c9c49a" stroke-width="0.9"/>
<line x1="1157.5" y1="613.6" x2="1159.2" y2="613.6" stroke="#c9c49a" stroke-width="0.9"/>
<line x1="1157.5" y1="611.9" x2="1159.2" y2="611.9" stroke="#c9c49a" stroke-width="0.9"/>
<line x1="1157.5" y1="610.1" x2="1159.2" y2="610.1" stroke="#c9c49a" stroke-width="0.9"/>
<line x1="1157.5" y1="608.4" x2="1159.2" y2="608.4" stroke="#c9c49a" stroke-width="0.9"/>
<line x1="1157.5" y1="606.6" x2="1159.2" y2="606.6" stroke="#c9c49a" stroke-width="0.9"/>
<line x1="1157.5" y1="604.9" x2="1159.2" y2="604.9" stroke="#c9c49a" stroke-width="0.9"/>
<line x1="1157.5" y1="603.1" x2="1159.2" y2="603.1" stroke="#c9c49a" stroke-width="0.9"/>
<line x1="1157.5" y1="601.4" x2="1159.2" y2="601.4" stroke="#c9c49a" stroke-width="0.9"/>
<line x1="1157.5" y1="599.6" x2="1159.2" y2="599.6" stroke="#c9c49a" stroke-width="0.9"/>
<line x1="1157.5" y1="597.9" x2="1159.2" y2="597.9" stroke="#c9c49a" stroke-width="0.9"/>
<line x1="1157.5" y1="596.1" x2="1159.2" y2="596.1" stroke="#c9c49a" stroke-width="0.9"/>
<line x1="1157.5" y1="594.4" x2="1159.2" y2="594.4" stroke="#c9c49a" stroke-width="0.9"/>
<line x1="1157.5" y1="592.6" x2="1159.2" y2="592.6" stroke="#c9c49a" stroke-width="0.9"/>
<line x1="1157.5" y1="590.9" x2="1159.2" y2="590.9" stroke="#c9c49a" stroke-width="0.9"/>
<line x1="1157.5" y1="589.1" x2="1159.2" y2="589.1" stroke="#c9c49a" stroke-width="0.9"/>
<line x1="1157.5" y1="587.4" x2="1159.2" y2="587.4" stroke="#c9c49a" stroke-width="0.9"/>
<line x1="1157.5" y1="585.6" x2="1159.2" y2="585.6" stroke="#c9c49a" stroke-width="0.9"/>
<line x1="1157.5" y1="583.9" x2="1159.2" y2="583.9" stroke="#c9c49a" stroke-width="0.9"/>
<line x1="1157.5" y1="582.1" x2="1159.2" y2="582.1" stroke="#c9c49a" stroke-width="0.9"/>
<line x1="1157.5" y1="580.3" x2="1159.2" y2="580.3" stroke="#c9c49a" stroke-width="0.9"/>
<line x1="1157.5" y1="578.6" x2="1159.2" y2="578.6" stroke="#c9c49a" stroke-width="0.9"/>
<line x1="1157.5" y1="576.8" x2="1159.2" y2="576.8" stroke="#c9c49a" stroke-width="0.9"/>
<line x1="1157.5" y1="575.1" x2="1159.2" y2="575.1" stroke="#c9c49a" stroke-width="0.9"/>
<line x1="1157.5" y1="573.3" x2="1159.2" y2="573.3" stroke="#c9c49a" stroke-width="0.9"/>
<line x1="1157.5" y1="571.6" x2="1159.2" y2="571.6" stroke="#c9c49a" stroke-width="0.9"/>
<line x1="1157.5" y1="569.8" x2="1159.2" y2="569.8" stroke="#c9c49a" stroke-width="0.9"/>
<line x1="1157.5" y1="568.1" x2="1159.2" y2="568.1" stroke="#c9c49a" stroke-width="0.9"/>
<line x1="1157.5" y1="566.3" x2="1159.2" y2="566.3" stroke="#c9c49a" stroke-width="0.9"/>
<line x1="1157.5" y1="564.6" x2="1159.2" y2="564.6" stroke="#c9c49a" stroke-width="0.9"/>
<line x1="1157.5" y1="562.8" x2="1159.2" y2="562.8" stroke="#c9c49a" stroke-width="0.9"/>
<line x1="1157.5" y1="561.1" x2="1159.2" y2="561.1" stroke="#c9c49a" stroke-width="0.9"/>
<line x1="1157.5" y1="559.3" x2="1159.2" y2="559.3" stroke="#c9c49a" stroke-width="0.9"/>
<line x1="1157.5" y1="557.6" x2="1159.2" y2="557.6" stroke="#c9c49a" stroke-width="0.9"/>
<line x1="1157.5" y1="555.8" x2="1159.2" y2="555.8" stroke="#c9c49a" stroke-width="0.9"/>
<line x1="1157.5" y1="554.1" x2="1159.2" y2="554.1" stroke="#c9c49a" stroke-width="0.9"/>
<line x1="1157.5" y1="552.3" x2="1159.2" y2="552.3" stroke="#c9c49a" stroke-width="0.9"/>
<line x1="1157.5" y1="550.6" x2="1159.2" y2="550.6" stroke="#c9c49a" stroke-width="0.9"/>
<line x1="1157.5" y1="548.8" x2="1159.2" y2="548.8" stroke="#c9c49a" stroke-width="0.9"/>
<line x1="1157.5" y1="547.1" x2="1159.2" y2="547.1" stroke="#c9c49a" stroke-width="0.9"/>
<line x1="1157.5" y1="545.3" x2="1159.2" y2="545.3" stroke="#c9c49a" stroke-width="0.9"/>
<line x1="1157.5" y1="543.5" x2="1159.2" y2="543.5" stroke="#c9c49a" stroke-width="0.9"/>
<line x1="1157.5" y1="541.8" x2="1159.2" y2="541.8" stroke="#c9c49a" stroke-width="0.9"/>
<line x1="1157.5" y1="540.0" x2="1159.2" y2="540.0" stroke="#c9c49a" stroke-width="0.9"/>
<line x1="1157.5" y1="538.3" x2="1159.2" y2="538.3" stroke="#c9c49a" stroke-width="0.9"/>
<line x1="1157.5" y1="536.5" x2="1159.2" y2="536.5" stroke="#c9c49a" stroke-width="0.9"/>
<text x="51.0" y="524.2" font-size="9.5" fill="#111" font-weight="normal" text-anchor="middle" stroke="#111" stroke-width="0.25" letter-spacing="0.3">Oct</text>
<text x="79.0" y="524.2" font-size="9.5" fill="#111" font-weight="normal" text-anchor="middle" stroke="#111" stroke-width="0.25" letter-spacing="0.3">Nov</text>
<text x="106.0" y="524.2" font-size="9.5" fill="#111" font-weight="normal" text-anchor="middle" stroke="#111" stroke-width="0.25" letter-spacing="0.3">Dec</text>
<text x="131.7" y="524.2" font-size="10.0" fill="#111" font-weight="bold" text-anchor="middle" stroke="#111" stroke-width="0.30">2007</text>
<text x="160.0" y="524.2" font-size="9.5" fill="#111" font-weight="normal" text-anchor="middle" stroke="#111" stroke-width="0.25" letter-spacing="0.3">Feb</text>
<text x="184.0" y="524.2" font-size="9.5" fill="#111" font-weight="normal" text-anchor="middle" stroke="#111" stroke-width="0.25" letter-spacing="0.3">Mar</text>
<text x="212.0" y="524.2" font-size="9.5" fill="#111" font-weight="normal" text-anchor="middle" stroke="#111" stroke-width="0.25" letter-spacing="0.3">Apr</text>
<text x="238.0" y="524.2" font-size="9.5" fill="#111" font-weight="normal" text-anchor="middle" stroke="#111" stroke-width="0.25" letter-spacing="0.3">May</text>
<text x="268.0" y="524.2" font-size="9.5" fill="#111" font-weight="normal" text-anchor="middle" stroke="#111" stroke-width="0.25" letter-spacing="0.3">Jun</text>
<text x="295.0" y="524.2" font-size="9.5" fill="#111" font-weight="normal" text-anchor="middle" stroke="#111" stroke-width="0.25" letter-spacing="0.3">Jul</text>
<text x="322.0" y="524.2" font-size="9.5" fill="#111" font-weight="normal" text-anchor="middle" stroke="#111" stroke-width="0.25" letter-spacing="0.3">Aug</text>
<text x="352.0" y="524.2" font-size="9.5" fill="#111" font-weight="normal" text-anchor="middle" stroke="#111" stroke-width="0.25" letter-spacing="0.3">Sep</text>
<text x="377.0" y="524.2" font-size="9.5" fill="#111" font-weight="normal" text-anchor="middle" stroke="#111" stroke-width="0.25" letter-spacing="0.3">Oct</text>
<text x="406.0" y="524.2" font-size="9.5" fill="#111" font-weight="normal" text-anchor="middle" stroke="#111" stroke-width="0.25" letter-spacing="0.3">Nov</text>
<text x="434.0" y="524.2" font-size="9.5" fill="#111" font-weight="normal" text-anchor="middle" stroke="#111" stroke-width="0.25" letter-spacing="0.3">Dec</text>
<text x="457.7" y="524.2" font-size="10.0" fill="#111" font-weight="bold" text-anchor="middle" stroke="#111" stroke-width="0.30">2008</text>
<text x="486.0" y="524.2" font-size="9.5" fill="#111" font-weight="normal" text-anchor="middle" stroke="#111" stroke-width="0.25" letter-spacing="0.3">Feb</text>
<text x="512.0" y="524.2" font-size="9.5" fill="#111" font-weight="normal" text-anchor="middle" stroke="#111" stroke-width="0.25" letter-spacing="0.3">Mar</text>
<text x="538.0" y="524.2" font-size="9.5" fill="#111" font-weight="normal" text-anchor="middle" stroke="#111" stroke-width="0.25" letter-spacing="0.3">Apr</text>
<text x="566.0" y="524.2" font-size="9.5" fill="#111" font-weight="normal" text-anchor="middle" stroke="#111" stroke-width="0.25" letter-spacing="0.3">May</text>
<text x="593.0" y="524.2" font-size="9.5" fill="#111" font-weight="normal" text-anchor="middle" stroke="#111" stroke-width="0.25" letter-spacing="0.3">Jun</text>
<text x="620.0" y="524.2" font-size="9.5" fill="#111" font-weight="normal" text-anchor="middle" stroke="#111" stroke-width="0.25" letter-spacing="0.3">Jul</text>
<text x="649.0" y="524.2" font-size="9.5" fill="#111" font-weight="normal" text-anchor="middle" stroke="#111" stroke-width="0.25" letter-spacing="0.3">Aug</text>
<text x="676.0" y="524.2" font-size="9.5" fill="#111" font-weight="normal" text-anchor="middle" stroke="#111" stroke-width="0.25" letter-spacing="0.3">Sep</text>
<text x="704.0" y="524.2" font-size="9.5" fill="#111" font-weight="normal" text-anchor="middle" stroke="#111" stroke-width="0.25" letter-spacing="0.3">Oct</text>
<text x="733.0" y="524.2" font-size="9.5" fill="#111" font-weight="normal" text-anchor="middle" stroke="#111" stroke-width="0.25" letter-spacing="0.3">Nov</text>
<text x="758.0" y="524.2" font-size="9.5" fill="#111" font-weight="normal" text-anchor="middle" stroke="#111" stroke-width="0.25" letter-spacing="0.3">Dec</text>
<text x="784.7" y="524.2" font-size="10.0" fill="#111" font-weight="bold" text-anchor="middle" stroke="#111" stroke-width="0.30">2009</text>
<text x="812.0" y="524.2" font-size="9.5" fill="#111" font-weight="normal" text-anchor="middle" stroke="#111" stroke-width="0.25" letter-spacing="0.3">Feb</text>
<text x="836.0" y="524.2" font-size="9.5" fill="#111" font-weight="normal" text-anchor="middle" stroke="#111" stroke-width="0.25" letter-spacing="0.3">Mar</text>
<text x="864.0" y="524.2" font-size="9.5" fill="#111" font-weight="normal" text-anchor="middle" stroke="#111" stroke-width="0.25" letter-spacing="0.3">Apr</text>
<text x="891.0" y="524.2" font-size="9.5" fill="#111" font-weight="normal" text-anchor="middle" stroke="#111" stroke-width="0.25" letter-spacing="0.3">May</text>
<text x="917.0" y="524.2" font-size="9.5" fill="#111" font-weight="normal" text-anchor="middle" stroke="#111" stroke-width="0.25" letter-spacing="0.3">Jun</text>
<text x="945.0" y="524.2" font-size="9.5" fill="#111" font-weight="normal" text-anchor="middle" stroke="#111" stroke-width="0.25" letter-spacing="0.3">Jul</text>
<text x="975.0" y="524.2" font-size="9.5" fill="#111" font-weight="normal" text-anchor="middle" stroke="#111" stroke-width="0.25" letter-spacing="0.3">Aug</text>
<text x="1002.0" y="524.2" font-size="9.5" fill="#111" font-weight="normal" text-anchor="middle" stroke="#111" stroke-width="0.25" letter-spacing="0.3">Sep</text>
<text x="1029.0" y="524.2" font-size="9.5" fill="#111" font-weight="normal" text-anchor="middle" stroke="#111" stroke-width="0.25" letter-spacing="0.3">Oct</text>
<text x="1057.0" y="524.2" font-size="9.5" fill="#111" font-weight="normal" text-anchor="middle" stroke="#111" stroke-width="0.25" letter-spacing="0.3">Nov</text>
<text x="1083.0" y="524.2" font-size="9.5" fill="#111" font-weight="normal" text-anchor="middle" stroke="#111" stroke-width="0.25" letter-spacing="0.3">Dec</text>
<text x="1109.7" y="524.2" font-size="10.0" fill="#111" font-weight="bold" text-anchor="middle" stroke="#111" stroke-width="0.30">2010</text>
<text x="1136.0" y="524.2" font-size="9.5" fill="#111" font-weight="normal" text-anchor="middle" stroke="#111" stroke-width="0.25" letter-spacing="0.3">Feb</text>
<text x="51.0" y="708.2" font-size="9.5" fill="#111" font-weight="normal" text-anchor="middle" stroke="#111" stroke-width="0.25" letter-spacing="0.3">Oct</text>
<text x="79.0" y="708.2" font-size="9.5" fill="#111" font-weight="normal" text-anchor="middle" stroke="#111" stroke-width="0.25" letter-spacing="0.3">Nov</text>
<text x="106.0" y="708.2" font-size="9.5" fill="#111" font-weight="normal" text-anchor="middle" stroke="#111" stroke-width="0.25" letter-spacing="0.3">Dec</text>
<text x="131.7" y="708.2" font-size="10.0" fill="#111" font-weight="bold" text-anchor="middle" stroke="#111" stroke-width="0.30">2007</text>
<text x="160.0" y="708.2" font-size="9.5" fill="#111" font-weight="normal" text-anchor="middle" stroke="#111" stroke-width="0.25" letter-spacing="0.3">Feb</text>
<text x="184.0" y="708.2" font-size="9.5" fill="#111" font-weight="normal" text-anchor="middle" stroke="#111" stroke-width="0.25" letter-spacing="0.3">Mar</text>
<text x="212.0" y="708.2" font-size="9.5" fill="#111" font-weight="normal" text-anchor="middle" stroke="#111" stroke-width="0.25" letter-spacing="0.3">Apr</text>
<text x="238.0" y="708.2" font-size="9.5" fill="#111" font-weight="normal" text-anchor="middle" stroke="#111" stroke-width="0.25" letter-spacing="0.3">May</text>
<text x="268.0" y="708.2" font-size="9.5" fill="#111" font-weight="normal" text-anchor="middle" stroke="#111" stroke-width="0.25" letter-spacing="0.3">Jun</text>
<text x="295.0" y="708.2" font-size="9.5" fill="#111" font-weight="normal" text-anchor="middle" stroke="#111" stroke-width="0.25" letter-spacing="0.3">Jul</text>
<text x="322.0" y="708.2" font-size="9.5" fill="#111" font-weight="normal" text-anchor="middle" stroke="#111" stroke-width="0.25" letter-spacing="0.3">Aug</text>
<text x="352.0" y="708.2" font-size="9.5" fill="#111" font-weight="normal" text-anchor="middle" stroke="#111" stroke-width="0.25" letter-spacing="0.3">Sep</text>
<text x="377.0" y="708.2" font-size="9.5" fill="#111" font-weight="normal" text-anchor="middle" stroke="#111" stroke-width="0.25" letter-spacing="0.3">Oct</text>
<text x="406.0" y="708.2" font-size="9.5" fill="#111" font-weight="normal" text-anchor="middle" stroke="#111" stroke-width="0.25" letter-spacing="0.3">Nov</text>
<text x="434.0" y="708.2" font-size="9.5" fill="#111" font-weight="normal" text-anchor="middle" stroke="#111" stroke-width="0.25" letter-spacing="0.3">Dec</text>
<text x="457.7" y="708.2" font-size="10.0" fill="#111" font-weight="bold" text-anchor="middle" stroke="#111" stroke-width="0.30">2008</text>
<text x="486.0" y="708.2" font-size="9.5" fill="#111" font-weight="normal" text-anchor="middle" stroke="#111" stroke-width="0.25" letter-spacing="0.3">Feb</text>
<text x="512.0" y="708.2" font-size="9.5" fill="#111" font-weight="normal" text-anchor="middle" stroke="#111" stroke-width="0.25" letter-spacing="0.3">Mar</text>
<text x="538.0" y="708.2" font-size="9.5" fill="#111" font-weight="normal" text-anchor="middle" stroke="#111" stroke-width="0.25" letter-spacing="0.3">Apr</text>
<text x="566.0" y="708.2" font-size="9.5" fill="#111" font-weight="normal" text-anchor="middle" stroke="#111" stroke-width="0.25" letter-spacing="0.3">May</text>
<text x="593.0" y="708.2" font-size="9.5" fill="#111" font-weight="normal" text-anchor="middle" stroke="#111" stroke-width="0.25" letter-spacing="0.3">Jun</text>
<text x="620.0" y="708.2" font-size="9.5" fill="#111" font-weight="normal" text-anchor="middle" stroke="#111" stroke-width="0.25" letter-spacing="0.3">Jul</text>
<text x="649.0" y="708.2" font-size="9.5" fill="#111" font-weight="normal" text-anchor="middle" stroke="#111" stroke-width="0.25" letter-spacing="0.3">Aug</text>
<text x="676.0" y="708.2" font-size="9.5" fill="#111" font-weight="normal" text-anchor="middle" stroke="#111" stroke-width="0.25" letter-spacing="0.3">Sep</text>
<text x="704.0" y="708.2" font-size="9.5" fill="#111" font-weight="normal" text-anchor="middle" stroke="#111" stroke-width="0.25" letter-spacing="0.3">Oct</text>
<text x="733.0" y="708.2" font-size="9.5" fill="#111" font-weight="normal" text-anchor="middle" stroke="#111" stroke-width="0.25" letter-spacing="0.3">Nov</text>
<text x="758.0" y="708.2" font-size="9.5" fill="#111" font-weight="normal" text-anchor="middle" stroke="#111" stroke-width="0.25" letter-spacing="0.3">Dec</text>
<text x="784.7" y="708.2" font-size="10.0" fill="#111" font-weight="bold" text-anchor="middle" stroke="#111" stroke-width="0.30">2009</text>
<text x="812.0" y="708.2" font-size="9.5" fill="#111" font-weight="normal" text-anchor="middle" stroke="#111" stroke-width="0.25" letter-spacing="0.3">Feb</text>
<text x="836.0" y="708.2" font-size="9.5" fill="#111" font-weight="normal" text-anchor="middle" stroke="#111" stroke-width="0.25" letter-spacing="0.3">Mar</text>
<text x="864.0" y="708.2" font-size="9.5" fill="#111" font-weight="normal" text-anchor="middle" stroke="#111" stroke-width="0.25" letter-spacing="0.3">Apr</text>
<text x="891.0" y="708.2" font-size="9.5" fill="#111" font-weight="normal" text-anchor="middle" stroke="#111" stroke-width="0.25" letter-spacing="0.3">May</text>
<text x="917.0" y="708.2" font-size="9.5" fill="#111" font-weight="normal" text-anchor="middle" stroke="#111" stroke-width="0.25" letter-spacing="0.3">Jun</text>
<text x="945.0" y="708.2" font-size="9.5" fill="#111" font-weight="normal" text-anchor="middle" stroke="#111" stroke-width="0.25" letter-spacing="0.3">Jul</text>
<text x="975.0" y="708.2" font-size="9.5" fill="#111" font-weight="normal" text-anchor="middle" stroke="#111" stroke-width="0.25" letter-spacing="0.3">Aug</text>
<text x="1002.0" y="708.2" font-size="9.5" fill="#111" font-weight="normal" text-anchor="middle" stroke="#111" stroke-width="0.25" letter-spacing="0.3">Sep</text>
<text x="1029.0" y="708.2" font-size="9.5" fill="#111" font-weight="normal" text-anchor="middle" stroke="#111" stroke-width="0.25" letter-spacing="0.3">Oct</text>
<text x="1057.0" y="708.2" font-size="9.5" fill="#111" font-weight="normal" text-anchor="middle" stroke="#111" stroke-width="0.25" letter-spacing="0.3">Nov</text>
<text x="1083.0" y="708.2" font-size="9.5" fill="#111" font-weight="normal" text-anchor="middle" stroke="#111" stroke-width="0.25" letter-spacing="0.3">Dec</text>
<text x="1109.7" y="708.2" font-size="10.0" fill="#111" font-weight="bold" text-anchor="middle" stroke="#111" stroke-width="0.30">2010</text>
<text x="1136.0" y="708.2" font-size="9.5" fill="#111" font-weight="normal" text-anchor="middle" stroke="#111" stroke-width="0.25" letter-spacing="0.3">Feb</text>
<line x1="51.5" y1="513.5" x2="51.5" y2="515.5" stroke="#c9c49a" stroke-width="1"/>
<line x1="51.5" y1="525.5" x2="51.5" y2="527.5" stroke="#c9c49a" stroke-width="1"/>
<line x1="51.5" y1="697.0" x2="51.5" y2="699.0" stroke="#c9c49a" stroke-width="1"/>
<line x1="51.5" y1="710.0" x2="51.5" y2="712.0" stroke="#c9c49a" stroke-width="1"/>
<line x1="79.5" y1="513.5" x2="79.5" y2="515.5" stroke="#c9c49a" stroke-width="1"/>
<line x1="79.5" y1="525.5" x2="79.5" y2="527.5" stroke="#c9c49a" stroke-width="1"/>
<line x1="79.5" y1="697.0" x2="79.5" y2="699.0" stroke="#c9c49a" stroke-width="1"/>
<line x1="79.5" y1="710.0" x2="79.5" y2="712.0" stroke="#c9c49a" stroke-width="1"/>
<line x1="106.5" y1="513.5" x2="106.5" y2="515.5" stroke="#c9c49a" stroke-width="1"/>
<line x1="106.5" y1="525.5" x2="106.5" y2="527.5" stroke="#c9c49a" stroke-width="1"/>
<line x1="106.5" y1="697.0" x2="106.5" y2="699.0" stroke="#c9c49a" stroke-width="1"/>
<line x1="106.5" y1="710.0" x2="106.5" y2="712.0" stroke="#c9c49a" stroke-width="1"/>
<line x1="133.5" y1="513.5" x2="133.5" y2="515.5" stroke="#c9c49a" stroke-width="1"/>
<line x1="133.5" y1="525.5" x2="133.5" y2="527.5" stroke="#c9c49a" stroke-width="1"/>
<line x1="133.5" y1="697.0" x2="133.5" y2="699.0" stroke="#c9c49a" stroke-width="1"/>
<line x1="133.5" y1="710.0" x2="133.5" y2="712.0" stroke="#c9c49a" stroke-width="1"/>
<line x1="160.5" y1="513.5" x2="160.5" y2="515.5" stroke="#c9c49a" stroke-width="1"/>
<line x1="160.5" y1="525.5" x2="160.5" y2="527.5" stroke="#c9c49a" stroke-width="1"/>
<line x1="160.5" y1="697.0" x2="160.5" y2="699.0" stroke="#c9c49a" stroke-width="1"/>
<line x1="160.5" y1="710.0" x2="160.5" y2="712.0" stroke="#c9c49a" stroke-width="1"/>
<line x1="184.5" y1="513.5" x2="184.5" y2="515.5" stroke="#c9c49a" stroke-width="1"/>
<line x1="184.5" y1="525.5" x2="184.5" y2="527.5" stroke="#c9c49a" stroke-width="1"/>
<line x1="184.5" y1="697.0" x2="184.5" y2="699.0" stroke="#c9c49a" stroke-width="1"/>
<line x1="184.5" y1="710.0" x2="184.5" y2="712.0" stroke="#c9c49a" stroke-width="1"/>
<line x1="212.5" y1="513.5" x2="212.5" y2="515.5" stroke="#c9c49a" stroke-width="1"/>
<line x1="212.5" y1="525.5" x2="212.5" y2="527.5" stroke="#c9c49a" stroke-width="1"/>
<line x1="212.5" y1="697.0" x2="212.5" y2="699.0" stroke="#c9c49a" stroke-width="1"/>
<line x1="212.5" y1="710.0" x2="212.5" y2="712.0" stroke="#c9c49a" stroke-width="1"/>
<line x1="238.5" y1="513.5" x2="238.5" y2="515.5" stroke="#c9c49a" stroke-width="1"/>
<line x1="238.5" y1="525.5" x2="238.5" y2="527.5" stroke="#c9c49a" stroke-width="1"/>
<line x1="238.5" y1="697.0" x2="238.5" y2="699.0" stroke="#c9c49a" stroke-width="1"/>
<line x1="238.5" y1="710.0" x2="238.5" y2="712.0" stroke="#c9c49a" stroke-width="1"/>
<line x1="268.5" y1="513.5" x2="268.5" y2="515.5" stroke="#c9c49a" stroke-width="1"/>
<line x1="268.5" y1="525.5" x2="268.5" y2="527.5" stroke="#c9c49a" stroke-width="1"/>
<line x1="268.5" y1="697.0" x2="268.5" y2="699.0" stroke="#c9c49a" stroke-width="1"/>
<line x1="268.5" y1="710.0" x2="268.5" y2="712.0" stroke="#c9c49a" stroke-width="1"/>
<line x1="295.5" y1="513.5" x2="295.5" y2="515.5" stroke="#c9c49a" stroke-width="1"/>
<line x1="295.5" y1="525.5" x2="295.5" y2="527.5" stroke="#c9c49a" stroke-width="1"/>
<line x1="295.5" y1="697.0" x2="295.5" y2="699.0" stroke="#c9c49a" stroke-width="1"/>
<line x1="295.5" y1="710.0" x2="295.5" y2="712.0" stroke="#c9c49a" stroke-width="1"/>
<line x1="322.5" y1="513.5" x2="322.5" y2="515.5" stroke="#c9c49a" stroke-width="1"/>
<line x1="322.5" y1="525.5" x2="322.5" y2="527.5" stroke="#c9c49a" stroke-width="1"/>
<line x1="322.5" y1="697.0" x2="322.5" y2="699.0" stroke="#c9c49a" stroke-width="1"/>
<line x1="322.5" y1="710.0" x2="322.5" y2="712.0" stroke="#c9c49a" stroke-width="1"/>
<line x1="352.5" y1="513.5" x2="352.5" y2="515.5" stroke="#c9c49a" stroke-width="1"/>
<line x1="352.5" y1="525.5" x2="352.5" y2="527.5" stroke="#c9c49a" stroke-width="1"/>
<line x1="352.5" y1="697.0" x2="352.5" y2="699.0" stroke="#c9c49a" stroke-width="1"/>
<line x1="352.5" y1="710.0" x2="352.5" y2="712.0" stroke="#c9c49a" stroke-width="1"/>
<line x1="377.5" y1="513.5" x2="377.5" y2="515.5" stroke="#c9c49a" stroke-width="1"/>
<line x1="377.5" y1="525.5" x2="377.5" y2="527.5" stroke="#c9c49a" stroke-width="1"/>
<line x1="377.5" y1="697.0" x2="377.5" y2="699.0" stroke="#c9c49a" stroke-width="1"/>
<line x1="377.5" y1="710.0" x2="377.5" y2="712.0" stroke="#c9c49a" stroke-width="1"/>
<line x1="406.5" y1="513.5" x2="406.5" y2="515.5" stroke="#c9c49a" stroke-width="1"/>
<line x1="406.5" y1="525.5" x2="406.5" y2="527.5" stroke="#c9c49a" stroke-width="1"/>
<line x1="406.5" y1="697.0" x2="406.5" y2="699.0" stroke="#c9c49a" stroke-width="1"/>
<line x1="406.5" y1="710.0" x2="406.5" y2="712.0" stroke="#c9c49a" stroke-width="1"/>
<line x1="434.5" y1="513.5" x2="434.5" y2="515.5" stroke="#c9c49a" stroke-width="1"/>
<line x1="434.5" y1="525.5" x2="434.5" y2="527.5" stroke="#c9c49a" stroke-width="1"/>
<line x1="434.5" y1="697.0" x2="434.5" y2="699.0" stroke="#c9c49a" stroke-width="1"/>
<line x1="434.5" y1="710.0" x2="434.5" y2="712.0" stroke="#c9c49a" stroke-width="1"/>
<line x1="459.5" y1="513.5" x2="459.5" y2="515.5" stroke="#c9c49a" stroke-width="1"/>
<line x1="459.5" y1="525.5" x2="459.5" y2="527.5" stroke="#c9c49a" stroke-width="1"/>
<line x1="459.5" y1="697.0" x2="459.5" y2="699.0" stroke="#c9c49a" stroke-width="1"/>
<line x1="459.5" y1="710.0" x2="459.5" y2="712.0" stroke="#c9c49a" stroke-width="1"/>
<line x1="486.5" y1="513.5" x2="486.5" y2="515.5" stroke="#c9c49a" stroke-width="1"/>
<line x1="486.5" y1="525.5" x2="486.5" y2="527.5" stroke="#c9c49a" stroke-width="1"/>
<line x1="486.5" y1="697.0" x2="486.5" y2="699.0" stroke="#c9c49a" stroke-width="1"/>
<line x1="486.5" y1="710.0" x2="486.5" y2="712.0" stroke="#c9c49a" stroke-width="1"/>
<line x1="512.5" y1="513.5" x2="512.5" y2="515.5" stroke="#c9c49a" stroke-width="1"/>
<line x1="512.5" y1="525.5" x2="512.5" y2="527.5" stroke="#c9c49a" stroke-width="1"/>
<line x1="512.5" y1="697.0" x2="512.5" y2="699.0" stroke="#c9c49a" stroke-width="1"/>
<line x1="512.5" y1="710.0" x2="512.5" y2="712.0" stroke="#c9c49a" stroke-width="1"/>
<line x1="538.5" y1="513.5" x2="538.5" y2="515.5" stroke="#c9c49a" stroke-width="1"/>
<line x1="538.5" y1="525.5" x2="538.5" y2="527.5" stroke="#c9c49a" stroke-width="1"/>
<line x1="538.5" y1="697.0" x2="538.5" y2="699.0" stroke="#c9c49a" stroke-width="1"/>
<line x1="538.5" y1="710.0" x2="538.5" y2="712.0" stroke="#c9c49a" stroke-width="1"/>
<line x1="566.5" y1="513.5" x2="566.5" y2="515.5" stroke="#c9c49a" stroke-width="1"/>
<line x1="566.5" y1="525.5" x2="566.5" y2="527.5" stroke="#c9c49a" stroke-width="1"/>
<line x1="566.5" y1="697.0" x2="566.5" y2="699.0" stroke="#c9c49a" stroke-width="1"/>
<line x1="566.5" y1="710.0" x2="566.5" y2="712.0" stroke="#c9c49a" stroke-width="1"/>
<line x1="593.5" y1="513.5" x2="593.5" y2="515.5" stroke="#c9c49a" stroke-width="1"/>
<line x1="593.5" y1="525.5" x2="593.5" y2="527.5" stroke="#c9c49a" stroke-width="1"/>
<line x1="593.5" y1="697.0" x2="593.5" y2="699.0" stroke="#c9c49a" stroke-width="1"/>
<line x1="593.5" y1="710.0" x2="593.5" y2="712.0" stroke="#c9c49a" stroke-width="1"/>
<line x1="620.5" y1="513.5" x2="620.5" y2="515.5" stroke="#c9c49a" stroke-width="1"/>
<line x1="620.5" y1="525.5" x2="620.5" y2="527.5" stroke="#c9c49a" stroke-width="1"/>
<line x1="620.5" y1="697.0" x2="620.5" y2="699.0" stroke="#c9c49a" stroke-width="1"/>
<line x1="620.5" y1="710.0" x2="620.5" y2="712.0" stroke="#c9c49a" stroke-width="1"/>
<line x1="649.5" y1="513.5" x2="649.5" y2="515.5" stroke="#c9c49a" stroke-width="1"/>
<line x1="649.5" y1="525.5" x2="649.5" y2="527.5" stroke="#c9c49a" stroke-width="1"/>
<line x1="649.5" y1="697.0" x2="649.5" y2="699.0" stroke="#c9c49a" stroke-width="1"/>
<line x1="649.5" y1="710.0" x2="649.5" y2="712.0" stroke="#c9c49a" stroke-width="1"/>
<line x1="676.5" y1="513.5" x2="676.5" y2="515.5" stroke="#c9c49a" stroke-width="1"/>
<line x1="676.5" y1="525.5" x2="676.5" y2="527.5" stroke="#c9c49a" stroke-width="1"/>
<line x1="676.5" y1="697.0" x2="676.5" y2="699.0" stroke="#c9c49a" stroke-width="1"/>
<line x1="676.5" y1="710.0" x2="676.5" y2="712.0" stroke="#c9c49a" stroke-width="1"/>
<line x1="704.5" y1="513.5" x2="704.5" y2="515.5" stroke="#c9c49a" stroke-width="1"/>
<line x1="704.5" y1="525.5" x2="704.5" y2="527.5" stroke="#c9c49a" stroke-width="1"/>
<line x1="704.5" y1="697.0" x2="704.5" y2="699.0" stroke="#c9c49a" stroke-width="1"/>
<line x1="704.5" y1="710.0" x2="704.5" y2="712.0" stroke="#c9c49a" stroke-width="1"/>
<line x1="733.5" y1="513.5" x2="733.5" y2="515.5" stroke="#c9c49a" stroke-width="1"/>
<line x1="733.5" y1="525.5" x2="733.5" y2="527.5" stroke="#c9c49a" stroke-width="1"/>
<line x1="733.5" y1="697.0" x2="733.5" y2="699.0" stroke="#c9c49a" stroke-width="1"/>
<line x1="733.5" y1="710.0" x2="733.5" y2="712.0" stroke="#c9c49a" stroke-width="1"/>
<line x1="758.5" y1="513.5" x2="758.5" y2="515.5" stroke="#c9c49a" stroke-width="1"/>
<line x1="758.5" y1="525.5" x2="758.5" y2="527.5" stroke="#c9c49a" stroke-width="1"/>
<line x1="758.5" y1="697.0" x2="758.5" y2="699.0" stroke="#c9c49a" stroke-width="1"/>
<line x1="758.5" y1="710.0" x2="758.5" y2="712.0" stroke="#c9c49a" stroke-width="1"/>
<line x1="786.5" y1="513.5" x2="786.5" y2="515.5" stroke="#c9c49a" stroke-width="1"/>
<line x1="786.5" y1="525.5" x2="786.5" y2="527.5" stroke="#c9c49a" stroke-width="1"/>
<line x1="786.5" y1="697.0" x2="786.5" y2="699.0" stroke="#c9c49a" stroke-width="1"/>
<line x1="786.5" y1="710.0" x2="786.5" y2="712.0" stroke="#c9c49a" stroke-width="1"/>
<line x1="812.5" y1="513.5" x2="812.5" y2="515.5" stroke="#c9c49a" stroke-width="1"/>
<line x1="812.5" y1="525.5" x2="812.5" y2="527.5" stroke="#c9c49a" stroke-width="1"/>
<line x1="812.5" y1="697.0" x2="812.5" y2="699.0" stroke="#c9c49a" stroke-width="1"/>
<line x1="812.5" y1="710.0" x2="812.5" y2="712.0" stroke="#c9c49a" stroke-width="1"/>
<line x1="836.5" y1="513.5" x2="836.5" y2="515.5" stroke="#c9c49a" stroke-width="1"/>
<line x1="836.5" y1="525.5" x2="836.5" y2="527.5" stroke="#c9c49a" stroke-width="1"/>
<line x1="836.5" y1="697.0" x2="836.5" y2="699.0" stroke="#c9c49a" stroke-width="1"/>
<line x1="836.5" y1="710.0" x2="836.5" y2="712.0" stroke="#c9c49a" stroke-width="1"/>
<line x1="864.5" y1="513.5" x2="864.5" y2="515.5" stroke="#c9c49a" stroke-width="1"/>
<line x1="864.5" y1="525.5" x2="864.5" y2="527.5" stroke="#c9c49a" stroke-width="1"/>
<line x1="864.5" y1="697.0" x2="864.5" y2="699.0" stroke="#c9c49a" stroke-width="1"/>
<line x1="864.5" y1="710.0" x2="864.5" y2="712.0" stroke="#c9c49a" stroke-width="1"/>
<line x1="891.5" y1="513.5" x2="891.5" y2="515.5" stroke="#c9c49a" stroke-width="1"/>
<line x1="891.5" y1="525.5" x2="891.5" y2="527.5" stroke="#c9c49a" stroke-width="1"/>
<line x1="891.5" y1="697.0" x2="891.5" y2="699.0" stroke="#c9c49a" stroke-width="1"/>
<line x1="891.5" y1="710.0" x2="891.5" y2="712.0" stroke="#c9c49a" stroke-width="1"/>
<line x1="917.5" y1="513.5" x2="917.5" y2="515.5" stroke="#c9c49a" stroke-width="1"/>
<line x1="917.5" y1="525.5" x2="917.5" y2="527.5" stroke="#c9c49a" stroke-width="1"/>
<line x1="917.5" y1="697.0" x2="917.5" y2="699.0" stroke="#c9c49a" stroke-width="1"/>
<line x1="917.5" y1="710.0" x2="917.5" y2="712.0" stroke="#c9c49a" stroke-width="1"/>
<line x1="945.5" y1="513.5" x2="945.5" y2="515.5" stroke="#c9c49a" stroke-width="1"/>
<line x1="945.5" y1="525.5" x2="945.5" y2="527.5" stroke="#c9c49a" stroke-width="1"/>
<line x1="945.5" y1="697.0" x2="945.5" y2="699.0" stroke="#c9c49a" stroke-width="1"/>
<line x1="945.5" y1="710.0" x2="945.5" y2="712.0" stroke="#c9c49a" stroke-width="1"/>
<line x1="975.5" y1="513.5" x2="975.5" y2="515.5" stroke="#c9c49a" stroke-width="1"/>
<line x1="975.5" y1="525.5" x2="975.5" y2="527.5" stroke="#c9c49a" stroke-width="1"/>
<line x1="975.5" y1="697.0" x2="975.5" y2="699.0" stroke="#c9c49a" stroke-width="1"/>
<line x1="975.5" y1="710.0" x2="975.5" y2="712.0" stroke="#c9c49a" stroke-width="1"/>
<line x1="1002.5" y1="513.5" x2="1002.5" y2="515.5" stroke="#c9c49a" stroke-width="1"/>
<line x1="1002.5" y1="525.5" x2="1002.5" y2="527.5" stroke="#c9c49a" stroke-width="1"/>
<line x1="1002.5" y1="697.0" x2="1002.5" y2="699.0" stroke="#c9c49a" stroke-width="1"/>
<line x1="1002.5" y1="710.0" x2="1002.5" y2="712.0" stroke="#c9c49a" stroke-width="1"/>
<line x1="1029.5" y1="513.5" x2="1029.5" y2="515.5" stroke="#c9c49a" stroke-width="1"/>
<line x1="1029.5" y1="525.5" x2="1029.5" y2="527.5" stroke="#c9c49a" stroke-width="1"/>
<line x1="1029.5" y1="697.0" x2="1029.5" y2="699.0" stroke="#c9c49a" stroke-width="1"/>
<line x1="1029.5" y1="710.0" x2="1029.5" y2="712.0" stroke="#c9c49a" stroke-width="1"/>
<line x1="1057.5" y1="513.5" x2="1057.5" y2="515.5" stroke="#c9c49a" stroke-width="1"/>
<line x1="1057.5" y1="525.5" x2="1057.5" y2="527.5" stroke="#c9c49a" stroke-width="1"/>
<line x1="1057.5" y1="697.0" x2="1057.5" y2="699.0" stroke="#c9c49a" stroke-width="1"/>
<line x1="1057.5" y1="710.0" x2="1057.5" y2="712.0" stroke="#c9c49a" stroke-width="1"/>
<line x1="1083.5" y1="513.5" x2="1083.5" y2="515.5" stroke="#c9c49a" stroke-width="1"/>
<line x1="1083.5" y1="525.5" x2="1083.5" y2="527.5" stroke="#c9c49a" stroke-width="1"/>
<line x1="1083.5" y1="697.0" x2="1083.5" y2="699.0" stroke="#c9c49a" stroke-width="1"/>
<line x1="1083.5" y1="710.0" x2="1083.5" y2="712.0" stroke="#c9c49a" stroke-width="1"/>
<line x1="1111.5" y1="513.5" x2="1111.5" y2="515.5" stroke="#c9c49a" stroke-width="1"/>
<line x1="1111.5" y1="525.5" x2="1111.5" y2="527.5" stroke="#c9c49a" stroke-width="1"/>
<line x1="1111.5" y1="697.0" x2="1111.5" y2="699.0" stroke="#c9c49a" stroke-width="1"/>
<line x1="1111.5" y1="710.0" x2="1111.5" y2="712.0" stroke="#c9c49a" stroke-width="1"/>
<line x1="1136.5" y1="513.5" x2="1136.5" y2="515.5" stroke="#c9c49a" stroke-width="1"/>
<line x1="1136.5" y1="525.5" x2="1136.5" y2="527.5" stroke="#c9c49a" stroke-width="1"/>
<line x1="1136.5" y1="697.0" x2="1136.5" y2="699.0" stroke="#c9c49a" stroke-width="1"/>
<line x1="1136.5" y1="710.0" x2="1136.5" y2="712.0" stroke="#c9c49a" stroke-width="1"/>
<polygon points="1155.7,96.1 1159.2,90.6 1188.4,90.6 1188.4,101.6 1159.2,101.6" fill="#fff" stroke="#2a7a2a" stroke-width="1.2"/>
<text x="1159.9" y="99.9" font-size="10.5" fill="#000" font-weight="bold" text-anchor="start">47.02</text>
<polygon points="1155.7,166.5 1159.2,161.0 1188.4,161.0 1188.4,172.0 1159.2,172.0" fill="#fff" stroke="#3030a0" stroke-width="1.2"/>
<text x="1159.9" y="170.3" font-size="10.5" fill="#000" font-weight="bold" text-anchor="start">37.82</text>
<polygon points="1155.7,247.7 1159.2,242.2 1188.4,242.2 1188.4,253.2 1159.2,253.2" fill="#fff" stroke="#333" stroke-width="1.2"/>
<text x="1159.9" y="251.5" font-size="10.5" fill="#000" font-weight="bold" text-anchor="start">80.59</text>
<polygon points="1155.7,282.4 1159.2,276.9 1188.4,276.9 1188.4,287.9 1159.2,287.9" fill="#fff" stroke="#ff2a2a" stroke-width="1.2"/>
<text x="1159.9" y="286.2" font-size="10.5" fill="#000" font-weight="bold" text-anchor="start">24.63</text>
<polygon points="1155.7,497.0 1159.2,491.5 1182.7,491.5 1182.7,502.5 1159.2,502.5" fill="#fff" stroke="#333" stroke-width="1.2"/>
<text x="1159.9" y="500.8" font-size="10.5" fill="#000" font-weight="bold" text-anchor="start">0.95</text>
<polygon points="1155.7,613.0 1159.2,607.5 1201.7,607.5 1201.7,618.5 1159.2,618.5" fill="#fff" stroke="#333" stroke-width="1.2"/>
<text x="1159.9" y="616.8" font-size="10.5" fill="#000" font-weight="bold" text-anchor="start">1109.17</text>
<text x="47.0" y="14.2" font-size="13.0" fill="#111" font-weight="bold" text-anchor="start" textLength="32.0" lengthAdjust="spacingAndGlyphs">$USD</text>
<text x="83.7" y="14.2" font-size="11.0" fill="#222" font-weight="normal" text-anchor="start" textLength="109.3" lengthAdjust="spacingAndGlyphs">(US Dollar Index (EOD))</text>
<text x="197.5" y="13.3" font-size="9.0" fill="#222" font-weight="normal" text-anchor="start" textLength="23.3" lengthAdjust="spacingAndGlyphs">INDX</text>
<text x="47.5" y="25.8" font-size="9.5" fill="#111" font-weight="normal" text-anchor="start" textLength="57.2" lengthAdjust="spacingAndGlyphs">19-Feb-2010</text>
<text x="1070.8" y="13.6" font-size="10.0" fill="#777" font-weight="normal" text-anchor="start" textLength="86.7" lengthAdjust="spacingAndGlyphs">© StockCharts.com</text>
<text x="809.2" y="25.8" font-size="10.5" fill="#111" font-weight="bold" text-anchor="start" textLength="26.6" lengthAdjust="spacingAndGlyphs">Open</text>
<text x="839.7" y="25.8" font-size="10.5" fill="#111" font-weight="normal" text-anchor="start" textLength="25.3" lengthAdjust="spacingAndGlyphs">81.25</text>
<text x="871.7" y="25.8" font-size="10.5" fill="#111" font-weight="bold" text-anchor="start" textLength="22.5" lengthAdjust="spacingAndGlyphs">High</text>
<text x="897.5" y="25.8" font-size="10.5" fill="#111" font-weight="normal" text-anchor="start" textLength="26.7" lengthAdjust="spacingAndGlyphs">81.34</text>
<text x="929.7" y="25.8" font-size="10.5" fill="#111" font-weight="bold" text-anchor="start" textLength="22.0" lengthAdjust="spacingAndGlyphs">Low</text>
<text x="955.8" y="25.8" font-size="10.5" fill="#111" font-weight="normal" text-anchor="start" textLength="25.9" lengthAdjust="spacingAndGlyphs">80.58</text>
<text x="988.0" y="25.8" font-size="10.5" fill="#111" font-weight="bold" text-anchor="start" textLength="29.5" lengthAdjust="spacingAndGlyphs">Close</text>
<text x="1021.7" y="25.8" font-size="10.5" fill="#111" font-weight="normal" text-anchor="start" textLength="25.0" lengthAdjust="spacingAndGlyphs">80.59</text>
<text x="1054.2" y="25.8" font-size="10.5" fill="#111" font-weight="bold" text-anchor="start" textLength="20.0" lengthAdjust="spacingAndGlyphs">Chg</text>
<text x="1078.3" y="25.8" font-size="10.5" fill="#111" font-weight="normal" text-anchor="start" textLength="25.0" lengthAdjust="spacingAndGlyphs">+0.16</text>
<text x="1106.7" y="25.8" font-size="10.5" fill="#111" font-weight="normal" text-anchor="start" textLength="40.8" lengthAdjust="spacingAndGlyphs">(+0.20%)</text>
<path d="M1151.5,25.3 L1154.5,20.5 L1157.5,25.3 Z" fill="#3a7a3a"/>
</svg></body></html>
